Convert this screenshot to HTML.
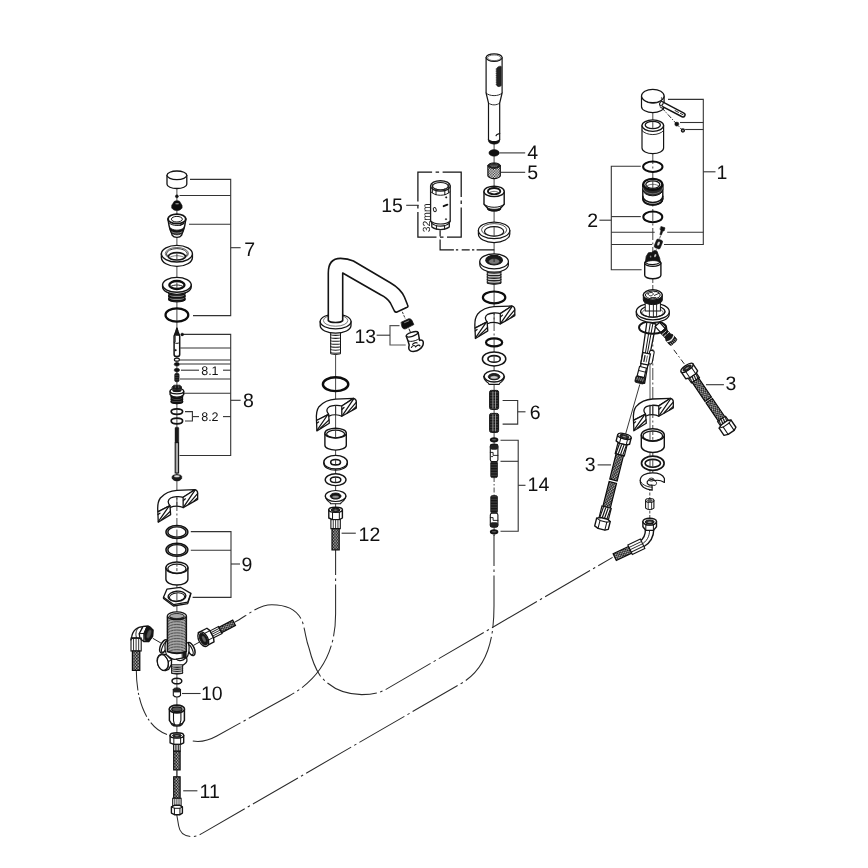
<!DOCTYPE html>
<html><head><meta charset="utf-8"><title>Exploded diagram</title>
<style>html,body{margin:0;padding:0;background:#fff}svg{display:block}svg text{font-family:"Liberation Sans",sans-serif;text-rendering:geometricPrecision}svg{will-change:transform}</style></head>
<body>
<svg width="868" height="868" viewBox="0 0 868 868">
<defs>
<pattern id="mesh" width="2.7" height="3.1" patternUnits="userSpaceOnUse">
<rect width="2.7" height="3.1" fill="#1e1e1e"/>
<circle cx="0.675" cy="0.775" r="0.66" fill="#fff"/>
<circle cx="2.025" cy="2.325" r="0.66" fill="#fff"/>
</pattern>
<pattern id="mesh2" width="2.6" height="2.6" patternUnits="userSpaceOnUse">
<rect width="2.6" height="2.6" fill="#1e1e1e"/>
<circle cx="0.65" cy="0.65" r="0.78" fill="#fff"/>
<circle cx="1.95" cy="1.95" r="0.78" fill="#fff"/>
</pattern>
<pattern id="thr" width="4" height="1.55" patternUnits="userSpaceOnUse">
<rect width="4" height="1.55" fill="#fff"/>
<rect y="0" width="4" height="0.8" fill="#2a2a2a"/>
</pattern>
<pattern id="thr2" width="4" height="1.9" patternUnits="userSpaceOnUse">
<rect width="4" height="1.9" fill="#fff"/>
<rect y="0" width="4" height="0.9" fill="#333"/>
</pattern>
<pattern id="spr" width="4" height="1.6" patternUnits="userSpaceOnUse">
<rect width="4" height="1.6" fill="#111"/>
<rect y="0" width="4" height="0.4" fill="#6a6a6a"/>
</pattern>
</defs>
<rect width="868" height="868" fill="#fff"/>
<path d="M335.6,549.4 L335.6,614 C335.6,652 320,679 289,696 L216.8,736 C205,742.5 197,742 190.5,740.5" fill="none" stroke="#2a2a2a" stroke-width="1.05" stroke-dasharray="52 3.5 2.5 3.5" stroke-dashoffset="26.4"/>
<path d="M234.4,622.4 C246,616.4 258,604.7 271.8,604.7 C288,604.7 300,612 303,623.7 C306,635 306,640 309,648 C312,660 315,668 320,675.5 C330,688 345,694.6 361.7,694.6 C372,694.6 379,693 386,689.4 L612.6,557.4" fill="none" stroke="#2a2a2a" stroke-width="1.05" stroke-dasharray="52 3.5 2.5 3.5" stroke-dashoffset="38"/>
<path d="M494,535 L494,606 C494,640 487,668 462,683 L203,832.9 C198,835.8 195.5,836.6 192.7,836.6 C184,836.6 179.6,832 178.7,826 L176.8,815" fill="none" stroke="#2a2a2a" stroke-width="1.05" stroke-dasharray="52 3.5 2.5 3.5" stroke-dashoffset="21"/>
<path d="M136.3,669.8 C136.4,706.5 149.5,728.5 167,734.4" fill="none" stroke="#2a2a2a" stroke-width="1.05" stroke-dasharray="20.6 2.6 2 2.6" stroke-dashoffset="0"/>
<line x1="176.90" y1="189.00" x2="176.90" y2="486.00" stroke="#333" stroke-width="0.9" />
<line x1="176.90" y1="486.00" x2="176.90" y2="530.00" stroke="#333" stroke-width="0.9" stroke-dasharray="9 2.5 2 2.5"/>
<line x1="176.90" y1="530.00" x2="176.90" y2="745.00" stroke="#333" stroke-width="0.9" />
<line x1="176.90" y1="770.00" x2="176.90" y2="778.00" stroke="#333" stroke-width="0.9" />
<polyline points="190.00,179.40 230.70,179.40 230.70,315.60 193.00,315.60" fill="none" stroke="#333" stroke-width="1.1" stroke-linejoin="miter" />
<line x1="179.50" y1="195.50" x2="230.70" y2="195.50" stroke="#333" stroke-width="1.1" />
<line x1="189.00" y1="224.20" x2="230.70" y2="224.20" stroke="#333" stroke-width="1.1" />
<line x1="230.70" y1="247.70" x2="240.60" y2="247.70" stroke="#333" stroke-width="1.1" />
<text x="244.20" y="255.90" font-size="19.5" text-anchor="start" fill="#111" >7</text>
<polyline points="182.70,334.40 230.70,334.40 230.70,455.50 179.50,455.50" fill="none" stroke="#333" stroke-width="1.1" stroke-linejoin="miter" />
<line x1="180.30" y1="348.00" x2="230.70" y2="348.00" stroke="#333" stroke-width="1.1" />
<line x1="180.00" y1="360.00" x2="230.70" y2="360.00" stroke="#333" stroke-width="1.1" />
<line x1="180.00" y1="364.00" x2="230.70" y2="364.00" stroke="#333" stroke-width="1.1" />
<line x1="181.00" y1="370.20" x2="199.00" y2="370.20" stroke="#333" stroke-width="1.1" />
<line x1="223.00" y1="370.20" x2="230.70" y2="370.20" stroke="#333" stroke-width="1.1" />
<line x1="180.00" y1="379.00" x2="230.70" y2="379.00" stroke="#333" stroke-width="1.1" />
<line x1="183.50" y1="393.20" x2="230.70" y2="393.20" stroke="#333" stroke-width="1.1" />
<line x1="223.00" y1="416.60" x2="230.70" y2="416.60" stroke="#333" stroke-width="1.1" />
<line x1="230.70" y1="400.30" x2="240.60" y2="400.30" stroke="#333" stroke-width="1.1" />
<text x="243.00" y="407.20" font-size="19.5" text-anchor="start" fill="#111" >8</text>
<text x="201.20" y="374.60" font-size="12.5" text-anchor="start" fill="#111" >8.1</text>
<text x="201.20" y="421.20" font-size="12.5" text-anchor="start" fill="#111" >8.2</text>
<polyline points="185.00,411.60 192.40,411.60 192.40,421.00 185.00,421.00" fill="none" stroke="#333" stroke-width="1.1" stroke-linejoin="miter" />
<line x1="192.40" y1="416.60" x2="199.00" y2="416.60" stroke="#333" stroke-width="1.1" />
<polyline points="190.80,531.60 231.00,531.60 231.00,597.40 192.60,597.40" fill="none" stroke="#333" stroke-width="1.1" stroke-linejoin="miter" />
<line x1="190.80" y1="550.30" x2="231.00" y2="550.30" stroke="#333" stroke-width="1.1" />
<line x1="231.00" y1="564.00" x2="240.00" y2="564.00" stroke="#333" stroke-width="1.1" />
<text x="241.40" y="571.30" font-size="19.5" text-anchor="start" fill="#111" >9</text>
<line x1="182.00" y1="693.50" x2="200.60" y2="693.50" stroke="#333" stroke-width="1.1" />
<text x="201.00" y="700.00" font-size="19.5" text-anchor="start" fill="#111" >10</text>
<line x1="183.20" y1="790.80" x2="197.40" y2="790.80" stroke="#333" stroke-width="1.1" />
<text x="199.60" y="797.90" font-size="19.5" text-anchor="start" fill="#111" >11</text>
<path d="M167.00,175.30 L167.00,184.20 A9.90,4.30 0 0 0 186.80,184.20 L186.80,175.30 Z" fill="#fff" stroke="#141414" stroke-width="1.3" stroke-linejoin="round" stroke-linecap="round" />
<ellipse cx="176.90" cy="175.30" rx="9.90" ry="4.30" fill="#fff" stroke="#141414" stroke-width="1.3" />
<ellipse cx="176.90" cy="196.30" rx="1.50" ry="1.50" fill="#111" stroke="#141414" stroke-width="0.5" />
<path d="M173.5,202.4 C173.5,200.2 180.3,200.2 180.3,202.4 L182.1,205.6 L182.1,208 C179.9,211.4 173.9,211.4 171.70000000000002,208 L171.70000000000002,205.6 Z" fill="#0e0e0e" stroke="#141414" stroke-width="0.6" stroke-linejoin="round" stroke-linecap="round" />
<ellipse cx="177.10" cy="203.70" rx="2.00" ry="0.80" fill="#aaa" stroke="#141414" stroke-width="0.3" />
<path d="M167.9,219 L168.9,225 C169.70000000000002,229 170.5,230.7 171.3,232.6 L172.3,235.4 C173.9,238 179.9,238 181.5,235.4 L182.5,232.6 C183.3,230.7 184.1,229 184.9,225 L185.9,219 Z" fill="#fff" stroke="#141414" stroke-width="1.4" stroke-linejoin="round" stroke-linecap="round" />
<path d="M169.70000000000002,227.6 C172.9,231 180.9,231 184.1,227.6 L182.6,232.6 C179.9,235.6 173.9,235.6 171.20000000000002,232.6 Z" fill="#141414" stroke="#141414" stroke-width="0.8" stroke-linejoin="round" stroke-linecap="round" />
<path d="M171.9,232 C173.9,233.6 179.9,233.6 181.9,232" fill="none" stroke="#aaa" stroke-width="0.8" stroke-linejoin="round" stroke-linecap="round" />
<ellipse cx="176.90" cy="218.90" rx="8.90" ry="4.80" fill="#fff" stroke="#141414" stroke-width="1.8" />
<ellipse cx="176.90" cy="219.20" rx="5.50" ry="2.80" fill="none" stroke="#141414" stroke-width="1.0" />
<path d="M168.5,222.4 C171.9,226.6 181.9,226.6 185.3,222.4" fill="none" stroke="#141414" stroke-width="1.0" stroke-linejoin="round" stroke-linecap="round" />
<path d="M179.9,225.4 L183.5,223.4" fill="none" stroke="#141414" stroke-width="1.2" stroke-linejoin="round" stroke-linecap="round" />
<path d="M161.4,253.7 L161.4,257.4 A15.5,9.0 0 0 0 192.4,257.4 L192.4,253.7 Z" fill="#fff" stroke="#141414" stroke-width="1.4" stroke-linejoin="round" stroke-linecap="round" />
<ellipse cx="176.90" cy="253.70" rx="15.50" ry="8.30" fill="#fff" stroke="#141414" stroke-width="1.4" />
<ellipse cx="176.90" cy="253.50" rx="11.60" ry="6.00" fill="none" stroke="#555" stroke-width="0.9" />
<ellipse cx="176.90" cy="253.90" rx="10.40" ry="5.30" fill="none" stroke="#333" stroke-width="1.0" />
<ellipse cx="176.90" cy="256.30" rx="8.50" ry="3.70" fill="#fff" stroke="#141414" stroke-width="1.7" />
<path d="M169.5,257.6 C172.9,255 180.9,255 184.3,257.6" fill="none" stroke="#555" stroke-width="0.8" stroke-linejoin="round" stroke-linecap="round" />
<line x1="176.90" y1="253.40" x2="176.90" y2="259.40" stroke="#333" stroke-width="0.9" />
<path d="M168.90,291.40 L168.90,300.40 Q176.90,303.60 184.90,300.40 L184.90,291.40 Z" fill="#888" stroke="#141414" stroke-width="1.0" stroke-linejoin="round" stroke-linecap="round" />
<path d="M168.90,292.90 A8.00,2.00 0 0 0 184.90,292.90" fill="none" stroke="#111" stroke-width="1.9" stroke-linejoin="round" stroke-linecap="round" />
<path d="M168.90,295.90 A8.00,2.00 0 0 0 184.90,295.90" fill="none" stroke="#111" stroke-width="1.9" stroke-linejoin="round" stroke-linecap="round" />
<path d="M168.90,298.90 A8.00,2.00 0 0 0 184.90,298.90" fill="none" stroke="#111" stroke-width="1.9" stroke-linejoin="round" stroke-linecap="round" />
<path d="M162.6,284.8 L162.6,286.8 A14.3,7.6 0 0 0 191.20000000000002,286.8 L191.20000000000002,284.8 Z" fill="#fff" stroke="#141414" stroke-width="1.4" stroke-linejoin="round" stroke-linecap="round" />
<ellipse cx="176.90" cy="284.80" rx="14.30" ry="7.40" fill="#fff" stroke="#141414" stroke-width="1.4" />
<ellipse cx="176.90" cy="285.00" rx="7.60" ry="4.00" fill="#fff" stroke="#0e0e0e" stroke-width="2.3" />
<path d="M170.5,286.6 C173.9,284.4 179.9,284.4 183.3,286.6" fill="none" stroke="#222" stroke-width="1.0" stroke-linejoin="round" stroke-linecap="round" />
<line x1="176.90" y1="282.40" x2="176.90" y2="288.40" stroke="#333" stroke-width="0.9" />
<ellipse cx="176.90" cy="315.00" rx="11.40" ry="6.70" fill="none" stroke="#0c0c0c" stroke-width="2.2" />
<path d="M176.9,328.2 L175.70000000000002,332 L174.1,336 L174.1,354.4 C174.1,357.2 179.70000000000002,357.2 179.70000000000002,354.4 L179.70000000000002,336 L178.1,332 Z" fill="#fff" stroke="#141414" stroke-width="1.5" stroke-linejoin="round" stroke-linecap="round" />
<path d="M176.9,328.2 L175.70000000000002,332 L174.5,335.4 L179.3,335.4 L178.1,332 Z" fill="#1a1a1a" stroke="#141414" stroke-width="0.6" stroke-linejoin="round" stroke-linecap="round" />
<path d="M174.1,342.4 C175.9,343.8 177.9,343.8 179.70000000000002,342.4" fill="none" stroke="#141414" stroke-width="1.0" stroke-linejoin="round" stroke-linecap="round" />
<line x1="175.30" y1="336.00" x2="175.30" y2="342.00" stroke="#333" stroke-width="0.9" />
<ellipse cx="175.60" cy="350.20" rx="0.90" ry="0.90" fill="#111" stroke="#141414" stroke-width="0.3" />
<ellipse cx="182.20" cy="334.40" rx="1.50" ry="1.50" fill="#111" stroke="#141414" stroke-width="0.3" />
<ellipse cx="176.90" cy="359.70" rx="2.50" ry="1.50" fill="#fff" stroke="#141414" stroke-width="1.2" />
<ellipse cx="176.90" cy="364.30" rx="2.80" ry="1.80" fill="#111" stroke="#141414" stroke-width="0.5" />
<ellipse cx="176.90" cy="370.10" rx="2.80" ry="1.80" fill="#111" stroke="#141414" stroke-width="0.5" />
<rect x="174.70" y="373.20" width="4.40" height="8.60" fill="#141414" stroke="#141414" stroke-width="0.6" rx="1.6"/>
<path d="M175.5,375.4 L178.3,375.4 M175.5,377.6 L178.3,377.6 M175.5,379.8 L178.3,379.8" fill="none" stroke="#777" stroke-width="0.4" stroke-linejoin="round" stroke-linecap="round" />
<path d="M172.3,386.8 L173.9,385.2 L179.9,385.2 L181.5,386.8 L181.5,391 L172.3,391 Z" fill="#1a1a1a" stroke="#141414" stroke-width="0.8" stroke-linejoin="round" stroke-linecap="round" />
<path d="M175.3,386 L175.3,390 M178.70000000000002,386 L178.70000000000002,390" fill="none" stroke="#999" stroke-width="0.5" stroke-linejoin="round" stroke-linecap="round" />
<path d="M171.30,395.40 L171.30,402.80 Q176.90,405.00 182.50,402.80 L182.50,395.40 Z" fill="#777" stroke="#141414" stroke-width="1.0" stroke-linejoin="round" stroke-linecap="round" />
<path d="M171.30,396.63 A5.60,1.38 0 0 0 182.50,396.63" fill="none" stroke="#111" stroke-width="1.9" stroke-linejoin="round" stroke-linecap="round" />
<path d="M171.30,399.10 A5.60,1.38 0 0 0 182.50,399.10" fill="none" stroke="#111" stroke-width="1.9" stroke-linejoin="round" stroke-linecap="round" />
<path d="M171.30,401.57 A5.60,1.38 0 0 0 182.50,401.57" fill="none" stroke="#111" stroke-width="1.9" stroke-linejoin="round" stroke-linecap="round" />
<path d="M170.1,391.2 L170.1,394.6 C172.9,398 180.9,398 183.70000000000002,394.6 L183.70000000000002,391.2 Z" fill="#fff" stroke="#141414" stroke-width="1.4" stroke-linejoin="round" stroke-linecap="round" />
<ellipse cx="176.90" cy="391.20" rx="6.80" ry="2.60" fill="#fff" stroke="#141414" stroke-width="1.3" />
<ellipse cx="176.90" cy="390.40" rx="4.40" ry="1.50" fill="#1a1a1a" stroke="#141414" stroke-width="0.5" />
<ellipse cx="176.90" cy="411.60" rx="5.70" ry="2.80" fill="none" stroke="#141414" stroke-width="1.7" />
<ellipse cx="176.90" cy="421.00" rx="5.70" ry="2.80" fill="none" stroke="#141414" stroke-width="1.7" />
<rect x="175.00" y="427.20" width="3.80" height="15.40" fill="#1a1a1a" stroke="#141414" stroke-width="0.4" rx="1"/>
<rect x="175.20" y="442.60" width="3.40" height="30.40" fill="#aaa" stroke="#141414" stroke-width="1.1" />
<path d="M172.1,476.6 C172.1,473.8 181.70000000000002,473.8 181.70000000000002,476.6 L181.70000000000002,478.4 C179.9,481.8 173.9,481.8 172.1,478.4 Z" fill="#1a1a1a" stroke="#141414" stroke-width="0.6" stroke-linejoin="round" stroke-linecap="round" />
<ellipse cx="176.90" cy="476.30" rx="3.00" ry="1.30" fill="#ddd" stroke="#141414" stroke-width="0.4" />
<g transform="translate(176.95,505.00)">
<path d="M17.9,-15.3 L0,-14.6 C-6,-14.3 -12.5,-11.5 -16.6,-7 C-18.8,-4 -19.6,1 -19.1,6.8 L-7,0.6 C-9.6,-2.4 -9.2,-5.2 -6.3,-7 C-3.5,-8.4 2.5,-8.8 6.2,-7.7 Z" fill="#fff" stroke="#141414" stroke-width="1.3" stroke-linejoin="round" stroke-linecap="round" />
<path d="M-19.1,6.8 L-7,0.6 L-6.3,9.6 L-18.7,17.2 Z" fill="#fff" stroke="#141414" stroke-width="1.3" stroke-linejoin="round" stroke-linecap="round" />
<path d="M-18.6,16.6 L-8.4,1.8 M-15.2,14.6 L-6.6,6.2 M-18.9,9.6 L-17,8.2" fill="none" stroke="#141414" stroke-width="1.25" stroke-linejoin="round" stroke-linecap="round" />
<path d="M6.2,-7.7 L17.9,-15.3 C19.6,-14.8 20.7,-13.4 20.7,-11.9 L20.7,-5.6 L6.2,2.6 Z" fill="#fff" stroke="#141414" stroke-width="1.3" stroke-linejoin="round" stroke-linecap="round" />
<path d="M6.9,1.6 L17.9,-14.6 M11.4,-0.6 L20.6,-11.4 M6.5,-4.4 L8.4,-6.2 M17,-3.8 L20.5,-7" fill="none" stroke="#141414" stroke-width="1.25" stroke-linejoin="round" stroke-linecap="round" />
<path d="M-6.6,2.4 C-3,0.6 3,0.6 6.2,2.6" fill="none" stroke="#141414" stroke-width="1.2" stroke-linejoin="round" stroke-linecap="round" />
</g>
<line x1="176.90" y1="496.80" x2="176.90" y2="505.60" stroke="#333" stroke-width="0.9" />
<ellipse cx="176.90" cy="532.00" rx="10.00" ry="5.90" fill="none" stroke="#999" stroke-width="2.0" />
<ellipse cx="176.90" cy="532.00" rx="11.00" ry="6.60" fill="none" stroke="#141414" stroke-width="1.4" />
<ellipse cx="176.90" cy="532.00" rx="9.00" ry="5.20" fill="none" stroke="#141414" stroke-width="1.3" />
<ellipse cx="176.90" cy="549.80" rx="10.00" ry="5.90" fill="none" stroke="#999" stroke-width="2.0" />
<ellipse cx="176.90" cy="549.80" rx="11.00" ry="6.60" fill="none" stroke="#141414" stroke-width="1.4" />
<ellipse cx="176.90" cy="549.80" rx="9.00" ry="5.20" fill="none" stroke="#141414" stroke-width="1.3" />
<path d="M165.90,567.80 L165.90,579.20 A11.00,5.80 0 0 0 187.90,579.20 L187.90,567.80 Z" fill="#fff" stroke="#141414" stroke-width="1.4" stroke-linejoin="round" stroke-linecap="round" />
<ellipse cx="176.90" cy="567.80" rx="11.00" ry="5.80" fill="#fff" stroke="#141414" stroke-width="1.4" />
<ellipse cx="176.90" cy="568.70" rx="9.10" ry="4.50" fill="none" stroke="#141414" stroke-width="1.26" />
<line x1="176.90" y1="563.60" x2="176.90" y2="572.40" stroke="#333" stroke-width="0.9" stroke-dasharray="3 1.5"/>
<path d="M163.5,597.2 L166.9,589.2 L180.4,587.3 L190.8,593.4 L190.6,594.8 L187.7,603.6 L173.5,606 L163.5,598.6 Z" fill="#fff" stroke="#141414" stroke-width="1.3" stroke-linejoin="round" stroke-linecap="round" />
<path d="M163.5,597.2 L173.5,604.6 L187.7,602.2 L190.8,593.4" fill="none" stroke="#141414" stroke-width="1.2" stroke-linejoin="round" stroke-linecap="round" />
<ellipse cx="177.00" cy="596.30" rx="8.90" ry="5.10" fill="#fff" stroke="#141414" stroke-width="1.4" transform="rotate(-5 177 596.3)"/>
<ellipse cx="177.00" cy="597.00" rx="7.60" ry="4.10" fill="none" stroke="#141414" stroke-width="1.0" transform="rotate(-5 177 597)"/>
<line x1="176.90" y1="592.60" x2="176.90" y2="600.60" stroke="#333" stroke-width="0.9" />
<ellipse cx="163.80" cy="646.40" rx="3.40" ry="7.00" fill="#fff" stroke="#141414" stroke-width="1.5" transform="rotate(24 163.8 646.4)"/>
<ellipse cx="164.70" cy="646.90" rx="2.00" ry="5.30" fill="#fff" stroke="#141414" stroke-width="1.1" transform="rotate(24 163.8 646.4)"/>
<ellipse cx="190.90" cy="649.00" rx="3.40" ry="7.00" fill="#fff" stroke="#141414" stroke-width="1.5" transform="rotate(-24 190.9 649.0)"/>
<ellipse cx="190.00" cy="649.50" rx="2.00" ry="5.30" fill="#fff" stroke="#141414" stroke-width="1.1" transform="rotate(-24 190.9 649.0)"/>
<path d="M165.6,641.5 C164,648 165.4,654 168,656.6 L176,661 L186,658.6 C189,655 190,648 188.4,643 Z" fill="#fff" stroke="#141414" stroke-width="1.2" stroke-linejoin="round" stroke-linecap="round" />
<path d="M167.45,615.80 L167.45,651.60 Q176.90,654.40 186.35,651.60 L186.35,615.80 Z" fill="#dcdcdc" stroke="#141414" stroke-width="1.0" stroke-linejoin="round" stroke-linecap="round" />
<path d="M167.45,616.58 A9.45,1.75 0 0 0 186.35,616.58" fill="none" stroke="#333" stroke-width="0.8" stroke-linejoin="round" stroke-linecap="round" />
<path d="M167.45,618.13 A9.45,1.75 0 0 0 186.35,618.13" fill="none" stroke="#333" stroke-width="0.8" stroke-linejoin="round" stroke-linecap="round" />
<path d="M167.45,619.69 A9.45,1.75 0 0 0 186.35,619.69" fill="none" stroke="#333" stroke-width="0.8" stroke-linejoin="round" stroke-linecap="round" />
<path d="M167.45,621.25 A9.45,1.75 0 0 0 186.35,621.25" fill="none" stroke="#333" stroke-width="0.8" stroke-linejoin="round" stroke-linecap="round" />
<path d="M167.45,622.80 A9.45,1.75 0 0 0 186.35,622.80" fill="none" stroke="#333" stroke-width="0.8" stroke-linejoin="round" stroke-linecap="round" />
<path d="M167.45,624.36 A9.45,1.75 0 0 0 186.35,624.36" fill="none" stroke="#333" stroke-width="0.8" stroke-linejoin="round" stroke-linecap="round" />
<path d="M167.45,625.92 A9.45,1.75 0 0 0 186.35,625.92" fill="none" stroke="#333" stroke-width="0.8" stroke-linejoin="round" stroke-linecap="round" />
<path d="M167.45,627.47 A9.45,1.75 0 0 0 186.35,627.47" fill="none" stroke="#333" stroke-width="0.8" stroke-linejoin="round" stroke-linecap="round" />
<path d="M167.45,629.03 A9.45,1.75 0 0 0 186.35,629.03" fill="none" stroke="#333" stroke-width="0.8" stroke-linejoin="round" stroke-linecap="round" />
<path d="M167.45,630.59 A9.45,1.75 0 0 0 186.35,630.59" fill="none" stroke="#333" stroke-width="0.8" stroke-linejoin="round" stroke-linecap="round" />
<path d="M167.45,632.14 A9.45,1.75 0 0 0 186.35,632.14" fill="none" stroke="#333" stroke-width="0.8" stroke-linejoin="round" stroke-linecap="round" />
<path d="M167.45,633.70 A9.45,1.75 0 0 0 186.35,633.70" fill="none" stroke="#333" stroke-width="0.8" stroke-linejoin="round" stroke-linecap="round" />
<path d="M167.45,635.26 A9.45,1.75 0 0 0 186.35,635.26" fill="none" stroke="#333" stroke-width="0.8" stroke-linejoin="round" stroke-linecap="round" />
<path d="M167.45,636.81 A9.45,1.75 0 0 0 186.35,636.81" fill="none" stroke="#333" stroke-width="0.8" stroke-linejoin="round" stroke-linecap="round" />
<path d="M167.45,638.37 A9.45,1.75 0 0 0 186.35,638.37" fill="none" stroke="#333" stroke-width="0.8" stroke-linejoin="round" stroke-linecap="round" />
<path d="M167.45,639.93 A9.45,1.75 0 0 0 186.35,639.93" fill="none" stroke="#333" stroke-width="0.8" stroke-linejoin="round" stroke-linecap="round" />
<path d="M167.45,641.48 A9.45,1.75 0 0 0 186.35,641.48" fill="none" stroke="#333" stroke-width="0.8" stroke-linejoin="round" stroke-linecap="round" />
<path d="M167.45,643.04 A9.45,1.75 0 0 0 186.35,643.04" fill="none" stroke="#333" stroke-width="0.8" stroke-linejoin="round" stroke-linecap="round" />
<path d="M167.45,644.60 A9.45,1.75 0 0 0 186.35,644.60" fill="none" stroke="#333" stroke-width="0.8" stroke-linejoin="round" stroke-linecap="round" />
<path d="M167.45,646.15 A9.45,1.75 0 0 0 186.35,646.15" fill="none" stroke="#333" stroke-width="0.8" stroke-linejoin="round" stroke-linecap="round" />
<path d="M167.45,647.71 A9.45,1.75 0 0 0 186.35,647.71" fill="none" stroke="#333" stroke-width="0.8" stroke-linejoin="round" stroke-linecap="round" />
<path d="M167.45,649.27 A9.45,1.75 0 0 0 186.35,649.27" fill="none" stroke="#333" stroke-width="0.8" stroke-linejoin="round" stroke-linecap="round" />
<path d="M167.45,650.82 A9.45,1.75 0 0 0 186.35,650.82" fill="none" stroke="#333" stroke-width="0.8" stroke-linejoin="round" stroke-linecap="round" />
<line x1="167.45" y1="615.80" x2="167.45" y2="651.60" stroke="#141414" stroke-width="1.5" />
<line x1="186.35" y1="615.80" x2="186.35" y2="651.60" stroke="#141414" stroke-width="1.5" />
<path d="M167.45,651.6 Q176.9,655.2 186.35,651.6" fill="none" stroke="#141414" stroke-width="1.5" stroke-linejoin="round" stroke-linecap="round" />
<ellipse cx="176.90" cy="615.80" rx="9.45" ry="3.90" fill="#fff" stroke="#141414" stroke-width="1.3" />
<ellipse cx="176.90" cy="616.20" rx="7.40" ry="2.70" fill="#aaa" stroke="#141414" stroke-width="0.9" />
<path d="M169.9,617 Q176.9,620.4 183.9,617 M170.9,618.4 Q176.9,621 182.9,618.4" fill="none" stroke="#141414" stroke-width="0.7" stroke-linejoin="round" stroke-linecap="round" />
<path d="M182.4,652.6 L186.2,651.6 L186.2,657.6 L182.6,658.6 Z" fill="#1a1a1a" stroke="#141414" stroke-width="0.8" stroke-linejoin="round" stroke-linecap="round" />
<path d="M167.6,655.6 C170,658.6 173.4,659.6 176.2,659.2 L186.4,657.4 C187.6,660 186.6,662.6 184.6,664 C182.6,665.8 180,666.4 178.4,666 L171.4,665.6 L170,662 Z" fill="#fff" stroke="#141414" stroke-width="1.3" stroke-linejoin="round" stroke-linecap="round" />
<path d="M176.2,659.2 C178.6,661.6 182.6,661 185.6,658" fill="none" stroke="#141414" stroke-width="1.2" stroke-linejoin="round" stroke-linecap="round" />
<path d="M171.60,665.20 L171.60,673.40 Q177.10,675.00 182.60,673.40 L182.60,665.20 Z" fill="#fff" stroke="#141414" stroke-width="1.0" stroke-linejoin="round" stroke-linecap="round" />
<path d="M171.60,666.23 A5.50,1.00 0 0 0 182.60,666.23" fill="none" stroke="#222" stroke-width="1.3" stroke-linejoin="round" stroke-linecap="round" />
<path d="M171.60,668.27 A5.50,1.00 0 0 0 182.60,668.27" fill="none" stroke="#222" stroke-width="1.3" stroke-linejoin="round" stroke-linecap="round" />
<path d="M171.60,670.33 A5.50,1.00 0 0 0 182.60,670.33" fill="none" stroke="#222" stroke-width="1.3" stroke-linejoin="round" stroke-linecap="round" />
<path d="M171.60,672.38 A5.50,1.00 0 0 0 182.60,672.38" fill="none" stroke="#222" stroke-width="1.3" stroke-linejoin="round" stroke-linecap="round" />
<path d="M157.2,660.6 C157.2,656.4 159.6,653.8 162.6,654.2 L166.2,654.6 L171.6,659.8 L171.4,664.6 L168.6,669.4 L165.4,670.6 C161,670.8 157.2,666.2 157.2,660.6 Z" fill="#fff" stroke="#141414" stroke-width="1.3" stroke-linejoin="round" stroke-linecap="round" />
<ellipse cx="162.80" cy="662.50" rx="5.30" ry="7.90" fill="#fff" stroke="#141414" stroke-width="1.2" transform="rotate(-14 162.8 662.5)"/>
<path d="M164.4,655 L168.6,661.4 L168.2,667.4 L165.4,670.4 M168.6,661.4 L171.6,659.8" fill="none" stroke="#141414" stroke-width="1.0" stroke-linejoin="round" stroke-linecap="round" />
<line x1="160.90" y1="643.00" x2="152.80" y2="638.30" stroke="#222" stroke-width="1.0" />
<line x1="193.40" y1="645.40" x2="199.60" y2="642.00" stroke="#222" stroke-width="1.0" />
<path d="M143.1,626.6 C137.4,626.6 132.2,630.6 131.6,637.8 L141,638.4 C140.4,636.6 140,635.4 139.6,634 Z" fill="#fff" stroke="#141414" stroke-width="1.3" stroke-linejoin="round" stroke-linecap="round" />
<path d="M137.8,628.6 C135.6,631 135.4,635 136.6,638" fill="none" stroke="#141414" stroke-width="0.9" stroke-linejoin="round" stroke-linecap="round" />
<path d="M139.2,633.7 L143.1,626.4 L148.2,626 L153,629.9 L152.6,636.4 L148.8,641.6 L143.7,641.6 L139.9,638.2 Z" fill="#fff" stroke="#141414" stroke-width="1.3" stroke-linejoin="round" stroke-linecap="round" />
<path d="M144,633.4 L146.8,626.6 L150,626.4 L153,629.9 L152.6,636.4 L148.8,641.6 L145.4,641.4 Z" fill="#151515" stroke="#141414" stroke-width="0.8" stroke-linejoin="round" stroke-linecap="round" />
<path d="M139.2,633.7 L144,633.4 L143.7,641.6 M144,633.4 L146.8,626.6" fill="none" stroke="#141414" stroke-width="1.0" stroke-linejoin="round" stroke-linecap="round" />
<ellipse cx="149.00" cy="634.00" rx="2.00" ry="4.60" fill="#555" stroke="#141414" stroke-width="0.4" transform="rotate(20 149 634)"/>
<g transform="translate(136.10,638.00) rotate(0.00)">
<rect x="-5.10" y="0.00" width="10.20" height="13.00" fill="#fff" stroke="#141414" stroke-width="1.1" />
<line x1="-2.55" y1="0.30" x2="-2.55" y2="12.70" stroke="#222" stroke-width="0.9" />
<line x1="0.00" y1="0.30" x2="0.00" y2="12.70" stroke="#222" stroke-width="0.9" />
<line x1="2.55" y1="0.30" x2="2.55" y2="12.70" stroke="#222" stroke-width="0.9" />
<rect x="-3.70" y="13.00" width="7.40" height="19.40" fill="url(#mesh)" stroke="#0c0c0c" stroke-width="1.2" />
</g>
<path d="M130.9,640 C130.9,637.6 141.3,637.6 141.3,640" fill="none" stroke="#141414" stroke-width="1.2" stroke-linejoin="round" stroke-linecap="round" />
<g transform="translate(200.80,640.10) rotate(-117.40)">
<path d="M-7.7,1.2 L-7.7,10.9 L-3.4650000000000003,12.5 L4.235,12.5 L7.7,10.9 L7.7,1.2 L4.235,-0.4 L-3.4650000000000003,-0.4 Z" fill="#fff" stroke="#141414" stroke-width="1.4" stroke-linejoin="round" stroke-linecap="round" />
<path d="M-3.4650000000000003,2.4 L-3.4650000000000003,12.5 M4.235,2.4 L4.235,12.5" fill="none" stroke="#141414" stroke-width="1.0" stroke-linejoin="round" stroke-linecap="round" />
<path d="M-7.7,1.2 L-3.4650000000000003,2.6 L4.235,2.6 L7.7,1.2" fill="none" stroke="#141414" stroke-width="1.0" stroke-linejoin="round" stroke-linecap="round" />
<rect x="-3.90" y="12.50" width="7.80" height="9.50" fill="#fff" stroke="#141414" stroke-width="1.1" />
<line x1="-1.95" y1="12.80" x2="-1.95" y2="21.70" stroke="#222" stroke-width="0.9" />
<line x1="0.00" y1="12.80" x2="0.00" y2="21.70" stroke="#222" stroke-width="0.9" />
<line x1="1.95" y1="12.80" x2="1.95" y2="21.70" stroke="#222" stroke-width="0.9" />
<rect x="-3.00" y="22.00" width="6.00" height="15.50" fill="url(#mesh)" stroke="#0c0c0c" stroke-width="1.2" />
</g>
<ellipse cx="203.30" cy="639.20" rx="4.60" ry="7.80" fill="#fff" stroke="#141414" stroke-width="1.3" transform="rotate(-27 203.3 639.2)"/>
<ellipse cx="203.50" cy="639.10" rx="3.40" ry="6.30" fill="#161616" stroke="#141414" stroke-width="0.9" transform="rotate(-27 203.5 639.1)"/>
<ellipse cx="203.90" cy="639.00" rx="1.50" ry="3.40" fill="#666" stroke="#141414" stroke-width="0.3" transform="rotate(-27 203.9 639.0)"/>
<ellipse cx="176.90" cy="681.00" rx="4.90" ry="2.80" fill="none" stroke="#141414" stroke-width="1.5" />
<path d="M173.3,689.6 L173.3,695.4 C174.9,697.6 178.9,697.6 180.5,695.4 L180.5,689.6 Z" fill="#fff" stroke="#141414" stroke-width="1.1" stroke-linejoin="round" stroke-linecap="round" />
<ellipse cx="176.90" cy="689.60" rx="3.60" ry="1.70" fill="#222" stroke="#141414" stroke-width="1.0" />
<rect x="173.30" y="689.80" width="7.20" height="2.60" fill="#222" stroke="#141414" stroke-width="0" />
<path d="M169.4,709 L169.4,720.4 L171.9,724.4 C173.9,726.6 179.9,726.6 181.9,724.4 L184.4,720.4 L184.4,709 Z" fill="#fff" stroke="#141414" stroke-width="1.5" stroke-linejoin="round" stroke-linecap="round" />
<ellipse cx="176.90" cy="709.00" rx="7.60" ry="3.90" fill="#fff" stroke="#141414" stroke-width="1.6" />
<ellipse cx="176.90" cy="709.20" rx="5.20" ry="2.30" fill="#555" stroke="#141414" stroke-width="1.2" />
<path d="M173.5,712.4 L173.5,720.6 L174.5,724.6 M180.9,712.2 L180.9,720.4 L179.70000000000002,724.4 M172.3,723.6 C173.9,725.4 179.9,725.4 181.5,723.6" fill="none" stroke="#141414" stroke-width="1.1" stroke-linejoin="round" stroke-linecap="round" />
<g transform="translate(176.90,733.40) rotate(0.00)">
<path d="M-6.8,2 L-6.8,9.4 L-3.06,11 L3.74,11 L6.8,9.4 L6.8,2 Z" fill="#fff" stroke="#141414" stroke-width="1.4" stroke-linejoin="round" stroke-linecap="round" />
<path d="M-3.06,4 L-3.06,11 M3.74,4 L3.74,11" fill="none" stroke="#141414" stroke-width="1.0" stroke-linejoin="round" stroke-linecap="round" />
<path d="M-6.8,2.2 L-3.06,4.4 L3.74,4.4 L6.8,2.2" fill="none" stroke="#141414" stroke-width="1.0" stroke-linejoin="round" stroke-linecap="round" />
<ellipse cx="0.00" cy="2.00" rx="6.80" ry="2.60" fill="#fff" stroke="#141414" stroke-width="1.4" />
<ellipse cx="0.00" cy="2.10" rx="4.49" ry="1.60" fill="#2a2a2a" stroke="#141414" stroke-width="1.0" />
<ellipse cx="0.00" cy="2.30" rx="2.04" ry="0.70" fill="#aaa" stroke="#141414" stroke-width="0.3" />
<rect x="-3.30" y="11.00" width="6.60" height="6.80" fill="#fff" stroke="#141414" stroke-width="1.1" />
<line x1="-1.65" y1="11.30" x2="-1.65" y2="17.50" stroke="#222" stroke-width="0.9" />
<line x1="0.00" y1="11.30" x2="0.00" y2="17.50" stroke="#222" stroke-width="0.9" />
<line x1="1.65" y1="11.30" x2="1.65" y2="17.50" stroke="#222" stroke-width="0.9" />
<rect x="-3.20" y="17.80" width="6.40" height="18.70" fill="url(#mesh)" stroke="#0c0c0c" stroke-width="1.2" />
<line x1="0.00" y1="36.50" x2="0.00" y2="43.40" stroke="#333" stroke-width="0.9" />
<rect x="-3.20" y="43.40" width="6.40" height="21.50" fill="url(#mesh)" stroke="#0c0c0c" stroke-width="1.2" />
<rect x="-4.20" y="64.90" width="8.40" height="7.40" fill="#fff" stroke="#141414" stroke-width="1.1" />
<line x1="-2.10" y1="65.20" x2="-2.10" y2="72.00" stroke="#222" stroke-width="0.9" />
<line x1="0.00" y1="65.20" x2="0.00" y2="72.00" stroke="#222" stroke-width="0.9" />
<line x1="2.10" y1="65.20" x2="2.10" y2="72.00" stroke="#222" stroke-width="0.9" />
<path d="M-5.5,73.50000000000001 L-5.5,79.70000000000002 L-2.475,81.30000000000001 L3.0250000000000004,81.30000000000001 L5.5,79.70000000000002 L5.5,73.50000000000001 L3.0250000000000004,71.9 L-2.475,71.9 Z" fill="#fff" stroke="#141414" stroke-width="1.4" stroke-linejoin="round" stroke-linecap="round" />
<path d="M-2.475,74.70000000000002 L-2.475,81.30000000000001 M3.0250000000000004,74.70000000000002 L3.0250000000000004,81.30000000000001" fill="none" stroke="#141414" stroke-width="1.0" stroke-linejoin="round" stroke-linecap="round" />
<path d="M-5.5,73.50000000000001 L-2.475,74.9 L3.0250000000000004,74.9 L5.5,73.50000000000001" fill="none" stroke="#141414" stroke-width="1.0" stroke-linejoin="round" stroke-linecap="round" />
</g>
<line x1="335.60" y1="352.00" x2="335.60" y2="508.00" stroke="#333" stroke-width="0.9" />
<path d="M330.70,333.00 L330.70,353.80 Q335.60,355.20 340.50,353.80 L340.50,333.00 Z" fill="#fff" stroke="#141414" stroke-width="1.0" stroke-linejoin="round" stroke-linecap="round" />
<path d="M330.70,334.49 A4.90,0.88 0 0 0 340.50,334.49" fill="none" stroke="#1a1a1a" stroke-width="1.1" stroke-linejoin="round" stroke-linecap="round" />
<path d="M330.70,337.46 A4.90,0.88 0 0 0 340.50,337.46" fill="none" stroke="#1a1a1a" stroke-width="1.1" stroke-linejoin="round" stroke-linecap="round" />
<path d="M330.70,340.43 A4.90,0.88 0 0 0 340.50,340.43" fill="none" stroke="#1a1a1a" stroke-width="1.1" stroke-linejoin="round" stroke-linecap="round" />
<path d="M330.70,343.40 A4.90,0.88 0 0 0 340.50,343.40" fill="none" stroke="#1a1a1a" stroke-width="1.1" stroke-linejoin="round" stroke-linecap="round" />
<path d="M330.70,346.37 A4.90,0.88 0 0 0 340.50,346.37" fill="none" stroke="#1a1a1a" stroke-width="1.1" stroke-linejoin="round" stroke-linecap="round" />
<path d="M330.70,349.34 A4.90,0.88 0 0 0 340.50,349.34" fill="none" stroke="#1a1a1a" stroke-width="1.1" stroke-linejoin="round" stroke-linecap="round" />
<path d="M330.70,352.31 A4.90,0.88 0 0 0 340.50,352.31" fill="none" stroke="#1a1a1a" stroke-width="1.1" stroke-linejoin="round" stroke-linecap="round" />
<path d="M320.20000000000005,321.5 L320.20000000000005,325.6 A15.4,7.6 0 0 0 351.0,325.6 L351.0,321.5 Z" fill="#fff" stroke="#141414" stroke-width="1.3" stroke-linejoin="round" stroke-linecap="round" />
<ellipse cx="335.60" cy="321.50" rx="15.40" ry="7.40" fill="#fff" stroke="#141414" stroke-width="1.3" />
<ellipse cx="335.60" cy="320.60" rx="12.20" ry="5.60" fill="none" stroke="#555" stroke-width="0.8" />
<path d="M328.3,320.6 L328.3,273 C328.3,263 333,258.4 340.5,258.4 C346,258.4 350,259.4 353.4,261 L390.3,282.7 C397,286.6 402,291.6 404.4,297 L407.6,305 C408.4,306.6 407.8,307.2 406.6,307.6 L397,312 C395.8,312.4 395,312 394.4,311 L390.4,303 C387.6,298.6 384,296.4 380.6,294.8 L342.7,273 L342.7,320.6 C340,323.2 331,323.2 328.3,320.6 Z" fill="#fff" stroke="#141414" stroke-width="1.6" stroke-linejoin="round" stroke-linecap="round" />
<line x1="402.30" y1="311.80" x2="405.40" y2="319.00" stroke="#222" stroke-width="0.9" stroke-dasharray="2.5 1.2"/>
<line x1="408.90" y1="328.70" x2="410.90" y2="333.20" stroke="#222" stroke-width="1.0" />
<path d="M401.4,322.2 L408.6,318.8 C410.4,318.6 411.4,319.4 412,320.6 L413.8,324.6 L405.6,328.8 C403.8,329.2 402.6,328.4 402,327 Z" fill="#0e0e0e" stroke="#141414" stroke-width="0.8" stroke-linejoin="round" stroke-linecap="round" />
<path d="M404.6,322.6 L408.8,320.8" fill="none" stroke="#aaa" stroke-width="0.8" stroke-linejoin="round" stroke-linecap="round" />
<path d="M406.3,336.2 C405.6,333.6 416.8,329.8 418.2,332.6 L419.6,340.4 C421.6,339.6 423.4,340.6 423.3,342.8 C423.4,345.4 421.6,348 419,349.6 C416.6,351.4 412.6,352 410.4,350.8 C408.6,349.8 408.6,347 409.2,345 L408.2,341.6 Z" fill="#fff" stroke="#141414" stroke-width="1.5" stroke-linejoin="round" stroke-linecap="round" />
<path d="M406.3,336.2 C408,338.4 417,335.4 418.2,332.6" fill="none" stroke="#141414" stroke-width="1.3" stroke-linejoin="round" stroke-linecap="round" />
<path d="M408,340.8 C410.6,342.6 417.6,340.4 419.4,338.4" fill="none" stroke="#141414" stroke-width="1.0" stroke-linejoin="round" stroke-linecap="round" />
<path d="M412.6,344.4 C413.6,343 416,342.2 417.2,343 M411.4,347.4 C412.6,345.2 415,344.8 415.6,347 C417,345 419.6,344.4 420,346" fill="none" stroke="#141414" stroke-width="1.1" stroke-linejoin="round" stroke-linecap="round" />
<polyline points="399.50,325.60 390.00,325.60 390.00,345.00 405.70,345.00" fill="none" stroke="#555" stroke-width="1.2" stroke-linejoin="miter" />
<line x1="376.60" y1="335.20" x2="390.00" y2="335.20" stroke="#333" stroke-width="1.1" />
<text x="354.40" y="342.60" font-size="19.5" text-anchor="start" fill="#111" >13</text>
<ellipse cx="335.60" cy="384.20" rx="12.70" ry="6.90" fill="none" stroke="#0c0c0c" stroke-width="2.4" />
<g transform="translate(335.60,413.70)">
<path d="M17.9,-15.3 L0,-14.6 C-6,-14.3 -12.5,-11.5 -16.6,-7 C-18.8,-4 -19.6,1 -19.1,6.8 L-7,0.6 C-9.6,-2.4 -9.2,-5.2 -6.3,-7 C-3.5,-8.4 2.5,-8.8 6.2,-7.7 Z" fill="#fff" stroke="#141414" stroke-width="1.3" stroke-linejoin="round" stroke-linecap="round" />
<path d="M-19.1,6.8 L-7,0.6 L-6.3,9.6 L-18.7,17.2 Z" fill="#fff" stroke="#141414" stroke-width="1.3" stroke-linejoin="round" stroke-linecap="round" />
<path d="M-18.6,16.6 L-8.4,1.8 M-15.2,14.6 L-6.6,6.2 M-18.9,9.6 L-17,8.2" fill="none" stroke="#141414" stroke-width="1.25" stroke-linejoin="round" stroke-linecap="round" />
<path d="M6.2,-7.7 L17.9,-15.3 C19.6,-14.8 20.7,-13.4 20.7,-11.9 L20.7,-5.6 L6.2,2.6 Z" fill="#fff" stroke="#141414" stroke-width="1.3" stroke-linejoin="round" stroke-linecap="round" />
<path d="M6.9,1.6 L17.9,-14.6 M11.4,-0.6 L20.6,-11.4 M6.5,-4.4 L8.4,-6.2 M17,-3.8 L20.5,-7" fill="none" stroke="#141414" stroke-width="1.25" stroke-linejoin="round" stroke-linecap="round" />
<path d="M-6.6,2.4 C-3,0.6 3,0.6 6.2,2.6" fill="none" stroke="#141414" stroke-width="1.2" stroke-linejoin="round" stroke-linecap="round" />
</g>
<line x1="335.60" y1="405.00" x2="335.60" y2="414.60" stroke="#333" stroke-width="0.9" />
<path d="M324.90,433.20 L324.90,445.20 A10.70,4.90 0 0 0 346.30,445.20 L346.30,433.20 Z" fill="#fff" stroke="#141414" stroke-width="1.4" stroke-linejoin="round" stroke-linecap="round" />
<ellipse cx="335.60" cy="433.20" rx="10.70" ry="4.90" fill="#fff" stroke="#141414" stroke-width="1.4" />
<ellipse cx="335.60" cy="434.00" rx="9.00" ry="3.80" fill="none" stroke="#141414" stroke-width="1.26" />
<line x1="335.60" y1="429.50" x2="335.60" y2="437.40" stroke="#333" stroke-width="0.9" />
<ellipse cx="335.60" cy="462.20" rx="11.80" ry="6.80" fill="#fff" stroke="#141414" stroke-width="1.4" />
<path d="M323.8,462.2 L323.8,463.4 A11.8,6.9 0 0 0 347.40000000000003,463.4 L347.40000000000003,462.2" fill="none" stroke="#141414" stroke-width="1.1" stroke-linejoin="round" stroke-linecap="round" />
<ellipse cx="335.60" cy="462.20" rx="4.90" ry="2.70" fill="#fff" stroke="#141414" stroke-width="1.6" />
<line x1="335.60" y1="459.80" x2="335.60" y2="464.60" stroke="#333" stroke-width="0.9" />
<ellipse cx="335.60" cy="479.70" rx="10.40" ry="5.90" fill="#fff" stroke="#141414" stroke-width="1.4" />
<ellipse cx="335.60" cy="479.70" rx="5.20" ry="2.80" fill="#fff" stroke="#141414" stroke-width="1.5" />
<line x1="335.60" y1="477.00" x2="335.60" y2="482.40" stroke="#333" stroke-width="0.9" />
<path d="M325.3,496 C325.3,499 328.6,502 330.0,502.6 L330.6,503.8 L340.6,503.8 L341.20000000000005,502.6 C342.6,502 345.90000000000003,499 345.90000000000003,496 Z" fill="#fff" stroke="#141414" stroke-width="1.1" stroke-linejoin="round" stroke-linecap="round" />
<ellipse cx="335.60" cy="496.00" rx="10.30" ry="5.50" fill="#fff" stroke="#141414" stroke-width="1.2" />
<ellipse cx="335.60" cy="496.10" rx="5.40" ry="3.00" fill="#111" stroke="#141414" stroke-width="1.0" />
<ellipse cx="335.60" cy="496.90" rx="3.40" ry="1.30" fill="#999" stroke="#141414" stroke-width="0.4" />
<g transform="translate(335.60,507.80) rotate(0.00)">
<path d="M-6.8,2 L-6.8,10.200000000000001 L-3.06,11.8 L3.74,11.8 L6.8,10.200000000000001 L6.8,2 Z" fill="#fff" stroke="#141414" stroke-width="1.4" stroke-linejoin="round" stroke-linecap="round" />
<path d="M-3.06,4 L-3.06,11.8 M3.74,4 L3.74,11.8" fill="none" stroke="#141414" stroke-width="1.0" stroke-linejoin="round" stroke-linecap="round" />
<path d="M-6.8,2.2 L-3.06,4.4 L3.74,4.4 L6.8,2.2" fill="none" stroke="#141414" stroke-width="1.0" stroke-linejoin="round" stroke-linecap="round" />
<ellipse cx="0.00" cy="2.00" rx="6.80" ry="2.60" fill="#fff" stroke="#141414" stroke-width="1.4" />
<ellipse cx="0.00" cy="2.10" rx="4.49" ry="1.60" fill="#2a2a2a" stroke="#141414" stroke-width="1.0" />
<ellipse cx="0.00" cy="2.30" rx="2.04" ry="0.70" fill="#aaa" stroke="#141414" stroke-width="0.3" />
<rect x="-4.70" y="11.80" width="9.40" height="9.10" fill="#fff" stroke="#141414" stroke-width="1.1" />
<line x1="-2.35" y1="12.10" x2="-2.35" y2="20.60" stroke="#222" stroke-width="0.9" />
<line x1="0.00" y1="12.10" x2="0.00" y2="20.60" stroke="#222" stroke-width="0.9" />
<line x1="2.35" y1="12.10" x2="2.35" y2="20.60" stroke="#222" stroke-width="0.9" />
<rect x="-3.60" y="20.90" width="7.20" height="21.20" fill="url(#mesh)" stroke="#0c0c0c" stroke-width="1.2" />
</g>
<line x1="341.60" y1="533.20" x2="355.80" y2="533.20" stroke="#333" stroke-width="1.1" />
<text x="358.60" y="541.20" font-size="19.5" text-anchor="start" fill="#111" >12</text>
<line x1="494.10" y1="144.00" x2="494.10" y2="186.00" stroke="#333" stroke-width="0.9" />
<line x1="494.10" y1="210.00" x2="494.10" y2="254.00" stroke="#333" stroke-width="0.9" />
<line x1="494.10" y1="282.00" x2="494.10" y2="306.00" stroke="#333" stroke-width="0.9" />
<line x1="494.10" y1="306.00" x2="494.10" y2="340.00" stroke="#333" stroke-width="0.9" stroke-dasharray="9 2.5 2 2.5"/>
<line x1="494.10" y1="340.00" x2="494.10" y2="444.00" stroke="#333" stroke-width="0.9" />
<line x1="494.10" y1="477.00" x2="494.10" y2="496.00" stroke="#333" stroke-width="0.9" stroke-dasharray="5 2 1.5 2"/>
<line x1="494.10" y1="527.00" x2="494.10" y2="536.00" stroke="#333" stroke-width="0.9" />
<path d="M486.1,57.6 L486.1,93 L488.5,103 L488.5,139.6 C490.1,142.4 498.1,142.4 499.70000000000005,139.6 L499.70000000000005,103 L502.1,93 L502.1,57.6 Z" fill="#fff" stroke="#141414" stroke-width="1.2" stroke-linejoin="round" stroke-linecap="round" />
<ellipse cx="494.10" cy="57.60" rx="8.00" ry="3.80" fill="#fff" stroke="#141414" stroke-width="1.2" />
<ellipse cx="494.10" cy="57.80" rx="6.60" ry="2.80" fill="none" stroke="#555" stroke-width="0.8" />
<path d="M486.1,93 C489.1,96.6 499.1,96.6 502.1,93 M488.5,103 C491.1,105.6 497.1,105.6 499.70000000000005,103" fill="none" stroke="#141414" stroke-width="0.9" stroke-linejoin="round" stroke-linecap="round" />
<path d="M488.5,139.8 C490.1,142.6 498.1,142.6 499.70000000000005,139.8 L499.3,142.2 C497.1,144.8 491.1,144.8 488.90000000000003,142.2 Z" fill="#111" stroke="#141414" stroke-width="0.6" stroke-linejoin="round" stroke-linecap="round" />
<path d="M496.5,69 C497.1,66.4 500.1,65.6 501.3,66.6 L501.3,85.6 C500.1,87.2 497.5,87 496.70000000000005,85.4 Z" fill="#222" stroke="#141414" stroke-width="0.5" stroke-linejoin="round" stroke-linecap="round" />
<line x1="495.70" y1="69.00" x2="497.50" y2="69.00" stroke="#222" stroke-width="0.7" />
<line x1="495.70" y1="71.20" x2="497.50" y2="71.20" stroke="#222" stroke-width="0.7" />
<line x1="495.70" y1="73.40" x2="497.50" y2="73.40" stroke="#222" stroke-width="0.7" />
<line x1="495.70" y1="75.60" x2="497.50" y2="75.60" stroke="#222" stroke-width="0.7" />
<line x1="495.70" y1="77.80" x2="497.50" y2="77.80" stroke="#222" stroke-width="0.7" />
<line x1="495.70" y1="80.00" x2="497.50" y2="80.00" stroke="#222" stroke-width="0.7" />
<line x1="495.70" y1="82.20" x2="497.50" y2="82.20" stroke="#222" stroke-width="0.7" />
<line x1="495.70" y1="84.40" x2="497.50" y2="84.40" stroke="#222" stroke-width="0.7" />
<path d="M496.1,135.6 C496.5,134 499.1,134 499.70000000000005,133.4" fill="none" stroke="#141414" stroke-width="1.3" stroke-linejoin="round" stroke-linecap="round" />
<ellipse cx="494.10" cy="152.90" rx="5.20" ry="3.30" fill="#111" stroke="#141414" stroke-width="0.5" />
<line x1="499.70" y1="152.90" x2="525.20" y2="152.90" stroke="#333" stroke-width="1.1" />
<text x="527.20" y="159.40" font-size="19.5" text-anchor="start" fill="#111" >4</text>
<path d="M487.90000000000003,165.6 L487.90000000000003,176 C490.1,179.4 498.1,179.4 500.3,176 L500.3,165.6 Z" fill="url(#mesh2)" stroke="#141414" stroke-width="1.2" stroke-linejoin="round" stroke-linecap="round" />
<ellipse cx="494.10" cy="165.60" rx="6.20" ry="2.70" fill="#222" stroke="#141414" stroke-width="1.0" />
<path d="M490.5,165.2 L497.70000000000005,165.2 M491.70000000000005,166.6 L496.5,166.6" fill="none" stroke="#999" stroke-width="0.6" stroke-linejoin="round" stroke-linecap="round" stroke-dasharray="1 1"/>
<line x1="500.60" y1="172.30" x2="525.20" y2="172.30" stroke="#333" stroke-width="1.1" />
<text x="527.20" y="179.20" font-size="19.5" text-anchor="start" fill="#111" >5</text>
<path d="M484.0,191.4 L484.0,204.2 L487.70000000000005,208.2 L487.70000000000005,209 C490.1,211.4 498.1,211.4 500.5,209 L500.5,208.2 L504.20000000000005,204.2 L504.20000000000005,191.4 Z" fill="#fff" stroke="#141414" stroke-width="1.4" stroke-linejoin="round" stroke-linecap="round" />
<path d="M487.5,207.8 C490.1,209.8 498.1,209.8 500.70000000000005,207.8 L500.3,209.4 C498.1,211.6 490.1,211.6 487.90000000000003,209.4 Z" fill="#111" stroke="#141414" stroke-width="0.8" stroke-linejoin="round" stroke-linecap="round" />
<path d="M484.0,204.2 C488.1,208.4 500.1,208.4 504.20000000000005,204.2" fill="none" stroke="#141414" stroke-width="1.0" stroke-linejoin="round" stroke-linecap="round" />
<ellipse cx="494.10" cy="191.40" rx="10.10" ry="5.20" fill="#fff" stroke="#141414" stroke-width="1.4" />
<ellipse cx="494.10" cy="191.20" rx="6.20" ry="3.20" fill="#fff" stroke="#141414" stroke-width="1.9" />
<path d="M489.1,192.8 C492.1,190.8 496.1,190.8 499.1,192.8" fill="none" stroke="#444" stroke-width="0.8" stroke-linejoin="round" stroke-linecap="round" />
<path d="M478.40000000000003,230.4 L478.40000000000003,234 A15.7,8.6 0 0 0 509.8,234 L509.8,230.4 Z" fill="#fff" stroke="#141414" stroke-width="1.2" stroke-linejoin="round" stroke-linecap="round" />
<ellipse cx="494.10" cy="230.40" rx="15.70" ry="8.30" fill="#fff" stroke="#141414" stroke-width="1.2" />
<ellipse cx="494.10" cy="229.80" rx="12.60" ry="6.20" fill="none" stroke="#444" stroke-width="0.9" />
<ellipse cx="494.10" cy="231.40" rx="9.60" ry="4.70" fill="#fff" stroke="#141414" stroke-width="1.2" />
<line x1="494.10" y1="227.00" x2="494.10" y2="236.00" stroke="#333" stroke-width="0.9" />
<rect x="417.9" y="172.1" width="43.3" height="64.9" fill="none" stroke="#141414" stroke-width="1.25" stroke-dasharray="43.6 3.5 3.5 3.5" stroke-dashoffset="29.4"/>
<path d="M440.1,230.3 L440.1,249.9 L494.3,249.9" fill="none" stroke="#141414" stroke-width="1.2" stroke-dasharray="6.2 3 24.2 2 2.3 3.5 8 2.3 2.3 2.3 18 0"/>
<line x1="406.20" y1="205.30" x2="418.60" y2="205.30" stroke="#333" stroke-width="1.1" />
<text x="381.20" y="212.20" font-size="19.5" text-anchor="start" fill="#111" >15</text>
<text transform="translate(429.7,232.2) rotate(-90)" font-size="10.4" fill="#222">32mm</text>
<path d="M430.6,185.9 L430.6,221 L431.8,223 L431.8,227 C436,230.4 445,230.4 449.3,227 L449.3,223 L450.2,221 L450.2,185.9 Z" fill="#fff" stroke="#1c1c1c" stroke-width="1.3" stroke-linejoin="round" stroke-linecap="round" />
<ellipse cx="440.40" cy="185.90" rx="9.80" ry="5.20" fill="#fff" stroke="#1c1c1c" stroke-width="1.4" />
<ellipse cx="440.40" cy="186.20" rx="7.80" ry="3.70" fill="none" stroke="#1c1c1c" stroke-width="1.1" />
<path d="M430.6,191.6 C435,196.6 446,196.6 450.2,191.6 M432.4,184.6 L432.4,192.6 M436,189 L436,194.8 M444.8,189 L444.8,194.8 M448.4,184.6 L448.4,192.6" fill="none" stroke="#1c1c1c" stroke-width="1.0" stroke-linejoin="round" stroke-linecap="round" />
<path d="M430.6,221 C435,225 446,225 450.2,221 M431.8,223.4 C436,227 445,227 449.3,223.4 M436.4,225.6 L436.4,229.2 M444.6,225.6 L444.6,229.2" fill="none" stroke="#1c1c1c" stroke-width="1.1" stroke-linejoin="round" stroke-linecap="round" />
<ellipse cx="434.80" cy="209.60" rx="1.40" ry="2.10" fill="none" stroke="#1c1c1c" stroke-width="1.0" transform="rotate(-20 434.8 209.6)"/>
<path d="M443.6,206.2 L447.4,204.6" fill="none" stroke="#111" stroke-width="1.8" stroke-linejoin="round" stroke-linecap="round" />
<ellipse cx="446.20" cy="197.40" rx="0.80" ry="0.80" fill="#111" stroke="#141414" stroke-width="0.3" />
<ellipse cx="446.00" cy="219.20" rx="0.80" ry="0.80" fill="#111" stroke="#141414" stroke-width="0.3" />
<path d="M487.30,268.00 L487.30,283.40 Q494.10,285.40 500.90,283.40 L500.90,268.00 Z" fill="#ccc" stroke="#141414" stroke-width="1.0" stroke-linejoin="round" stroke-linecap="round" />
<path d="M487.30,269.28 A6.80,1.25 0 0 0 500.90,269.28" fill="none" stroke="#222" stroke-width="1.4" stroke-linejoin="round" stroke-linecap="round" />
<path d="M487.30,271.85 A6.80,1.25 0 0 0 500.90,271.85" fill="none" stroke="#222" stroke-width="1.4" stroke-linejoin="round" stroke-linecap="round" />
<path d="M487.30,274.42 A6.80,1.25 0 0 0 500.90,274.42" fill="none" stroke="#222" stroke-width="1.4" stroke-linejoin="round" stroke-linecap="round" />
<path d="M487.30,276.98 A6.80,1.25 0 0 0 500.90,276.98" fill="none" stroke="#222" stroke-width="1.4" stroke-linejoin="round" stroke-linecap="round" />
<path d="M487.30,279.55 A6.80,1.25 0 0 0 500.90,279.55" fill="none" stroke="#222" stroke-width="1.4" stroke-linejoin="round" stroke-linecap="round" />
<path d="M487.30,282.12 A6.80,1.25 0 0 0 500.90,282.12" fill="none" stroke="#222" stroke-width="1.4" stroke-linejoin="round" stroke-linecap="round" />
<path d="M479.8,261.4 L479.8,264.4 A14.3,7.8 0 0 0 508.40000000000003,264.4 L508.40000000000003,261.4 Z" fill="#fff" stroke="#141414" stroke-width="1.2" stroke-linejoin="round" stroke-linecap="round" />
<ellipse cx="494.10" cy="261.40" rx="14.30" ry="7.50" fill="#fff" stroke="#141414" stroke-width="1.2" />
<ellipse cx="494.10" cy="260.20" rx="8.30" ry="4.80" fill="#1a1a1a" stroke="#141414" stroke-width="1.2" />
<ellipse cx="494.10" cy="261.40" rx="5.60" ry="2.80" fill="#777" stroke="#141414" stroke-width="0.5" />
<line x1="494.10" y1="257.00" x2="494.10" y2="262.00" stroke="#222" stroke-width="0.9" />
<ellipse cx="494.10" cy="297.40" rx="11.20" ry="5.90" fill="none" stroke="#0c0c0c" stroke-width="2.2" />
<g transform="translate(494.10,321.30)">
<path d="M17.9,-15.3 L0,-14.6 C-6,-14.3 -12.5,-11.5 -16.6,-7 C-18.8,-4 -19.6,1 -19.1,6.8 L-7,0.6 C-9.6,-2.4 -9.2,-5.2 -6.3,-7 C-3.5,-8.4 2.5,-8.8 6.2,-7.7 Z" fill="#fff" stroke="#141414" stroke-width="1.3" stroke-linejoin="round" stroke-linecap="round" />
<path d="M-19.1,6.8 L-7,0.6 L-6.3,9.6 L-18.7,17.2 Z" fill="#fff" stroke="#141414" stroke-width="1.3" stroke-linejoin="round" stroke-linecap="round" />
<path d="M-18.6,16.6 L-8.4,1.8 M-15.2,14.6 L-6.6,6.2 M-18.9,9.6 L-17,8.2" fill="none" stroke="#141414" stroke-width="1.25" stroke-linejoin="round" stroke-linecap="round" />
<path d="M6.2,-7.7 L17.9,-15.3 C19.6,-14.8 20.7,-13.4 20.7,-11.9 L20.7,-5.6 L6.2,2.6 Z" fill="#fff" stroke="#141414" stroke-width="1.3" stroke-linejoin="round" stroke-linecap="round" />
<path d="M6.9,1.6 L17.9,-14.6 M11.4,-0.6 L20.6,-11.4 M6.5,-4.4 L8.4,-6.2 M17,-3.8 L20.5,-7" fill="none" stroke="#141414" stroke-width="1.25" stroke-linejoin="round" stroke-linecap="round" />
<path d="M-6.6,2.4 C-3,0.6 3,0.6 6.2,2.6" fill="none" stroke="#141414" stroke-width="1.2" stroke-linejoin="round" stroke-linecap="round" />
</g>
<line x1="494.10" y1="313.00" x2="494.10" y2="322.00" stroke="#333" stroke-width="0.9" />
<ellipse cx="494.10" cy="342.40" rx="8.10" ry="4.00" fill="none" stroke="#0c0c0c" stroke-width="2.2" />
<ellipse cx="494.10" cy="358.90" rx="11.70" ry="7.00" fill="#fff" stroke="#141414" stroke-width="1.5" />
<ellipse cx="494.10" cy="358.90" rx="6.20" ry="3.30" fill="#fff" stroke="#141414" stroke-width="1.6" />
<line x1="494.10" y1="355.40" x2="494.10" y2="362.40" stroke="#333" stroke-width="0.9" />
<path d="M483.6,376.3 C483.6,379.4 487.1,382.4 488.3,383 L489.1,384.4 L499.1,384.4 L499.90000000000003,383 C501.1,382.4 504.6,379.4 504.6,376.3 Z" fill="#fff" stroke="#141414" stroke-width="1.1" stroke-linejoin="round" stroke-linecap="round" />
<ellipse cx="494.10" cy="376.30" rx="10.00" ry="5.70" fill="#fff" stroke="#141414" stroke-width="1.4" />
<ellipse cx="494.10" cy="376.70" rx="5.80" ry="3.10" fill="#222" stroke="#141414" stroke-width="1.0" />
<ellipse cx="494.10" cy="377.40" rx="3.80" ry="1.60" fill="#ccc" stroke="#141414" stroke-width="0.4" />
<rect x="489.60" y="390.40" width="9.00" height="19.00" fill="url(#spr)" stroke="#141414" stroke-width="1.0" rx="1.8"/>
<line x1="492.90" y1="391.40" x2="492.90" y2="408.40" stroke="#bbb" stroke-width="0.7" />
<line x1="495.50" y1="391.40" x2="495.50" y2="408.40" stroke="#bbb" stroke-width="0.7" />
<rect x="489.60" y="413.40" width="9.00" height="19.00" fill="url(#spr)" stroke="#141414" stroke-width="1.0" rx="1.8"/>
<line x1="492.90" y1="414.40" x2="492.90" y2="431.40" stroke="#bbb" stroke-width="0.7" />
<line x1="495.50" y1="414.40" x2="495.50" y2="431.40" stroke="#bbb" stroke-width="0.7" />
<polyline points="502.60,400.50 517.70,400.50 517.70,424.10 502.60,424.10" fill="none" stroke="#333" stroke-width="1.1" stroke-linejoin="miter" />
<line x1="517.70" y1="411.80" x2="525.50" y2="411.80" stroke="#333" stroke-width="1.1" />
<text x="529.80" y="418.60" font-size="19.5" text-anchor="start" fill="#111" >6</text>
<ellipse cx="494.10" cy="439.80" rx="3.30" ry="1.70" fill="#555" stroke="#141414" stroke-width="1.9" />
<rect x="490.30" y="444.40" width="7.60" height="17.20" fill="#fff" stroke="#141414" stroke-width="1.1" rx="1.8"/>
<rect x="490.30" y="444.40" width="7.60" height="5.00" fill="#222" stroke="#141414" stroke-width="0.5" rx="1.8"/>
<path d="M490.3,452.4 L493.1,452.4 L493.1,455.4 L497.90000000000003,455.4 M491.5,456.6 L492.70000000000005,456.6" fill="none" stroke="#141414" stroke-width="0.9" stroke-linejoin="round" stroke-linecap="round" />
<rect x="490.70" y="461.60" width="6.80" height="16.00" fill="url(#spr)" stroke="#141414" stroke-width="0.7" rx="1.6"/>
<rect x="490.70" y="495.60" width="6.80" height="17.60" fill="url(#spr)" stroke="#141414" stroke-width="0.7" rx="1.6"/>
<rect x="490.30" y="513.20" width="7.60" height="13.80" fill="#fff" stroke="#141414" stroke-width="1.1" rx="1.8"/>
<rect x="490.30" y="522.60" width="7.60" height="4.60" fill="#222" stroke="#141414" stroke-width="0.5" rx="1.8"/>
<path d="M490.3,517.6 L493.1,517.6 L493.1,520.4 L497.90000000000003,520.4" fill="none" stroke="#141414" stroke-width="0.9" stroke-linejoin="round" stroke-linecap="round" />
<ellipse cx="494.10" cy="531.80" rx="3.30" ry="1.70" fill="#555" stroke="#141414" stroke-width="1.9" />
<polyline points="500.50,440.20 518.20,440.20 518.20,531.30 500.50,531.30" fill="none" stroke="#333" stroke-width="1.1" stroke-linejoin="miter" />
<line x1="500.50" y1="461.30" x2="518.20" y2="461.30" stroke="#333" stroke-width="1.1" />
<line x1="518.20" y1="485.30" x2="525.50" y2="485.30" stroke="#333" stroke-width="1.1" />
<text x="527.60" y="491.00" font-size="19.5" text-anchor="start" fill="#111" >14</text>
<line x1="652.80" y1="112.00" x2="652.80" y2="122.00" stroke="#333" stroke-width="0.9" />
<line x1="652.80" y1="152.00" x2="652.80" y2="252.00" stroke="#333" stroke-width="0.9" stroke-dasharray="12 2.5 2 2.5"/>
<line x1="652.80" y1="278.00" x2="652.80" y2="290.00" stroke="#333" stroke-width="0.9" stroke-dasharray="5 2"/>
<line x1="650.00" y1="330.00" x2="650.00" y2="478.00" stroke="#444" stroke-width="0.9" />
<line x1="652.80" y1="330.00" x2="652.80" y2="478.00" stroke="#333" stroke-width="0.9" stroke-dasharray="12 2.5 2 2.5"/>
<line x1="649.80" y1="488.00" x2="649.80" y2="520.00" stroke="#333" stroke-width="0.9" stroke-dasharray="3 1.5"/>
<polyline points="668.00,99.40 703.30,99.40 703.30,244.50 664.00,244.50" fill="none" stroke="#333" stroke-width="1.1" stroke-linejoin="miter" />
<line x1="680.00" y1="122.50" x2="703.30" y2="122.50" stroke="#333" stroke-width="1.1" />
<line x1="685.10" y1="129.50" x2="703.30" y2="129.50" stroke="#333" stroke-width="1.1" />
<line x1="667.20" y1="232.20" x2="703.30" y2="232.20" stroke="#333" stroke-width="1.1" />
<line x1="703.30" y1="171.80" x2="715.50" y2="171.80" stroke="#333" stroke-width="1.1" />
<text x="716.40" y="178.90" font-size="19.5" text-anchor="start" fill="#111" >1</text>
<polyline points="640.80,166.20 611.30,166.20 611.30,269.80 641.60,269.80" fill="none" stroke="#333" stroke-width="1.1" stroke-linejoin="miter" />
<line x1="611.30" y1="216.60" x2="640.80" y2="216.60" stroke="#333" stroke-width="1.1" />
<line x1="611.30" y1="232.20" x2="654.70" y2="232.20" stroke="#333" stroke-width="1.1" />
<line x1="611.30" y1="244.50" x2="652.00" y2="244.50" stroke="#333" stroke-width="1.1" />
<line x1="599.40" y1="220.20" x2="611.30" y2="220.20" stroke="#333" stroke-width="1.1" />
<text x="587.20" y="227.00" font-size="19.5" text-anchor="start" fill="#111" >2</text>
<path d="M641.5,96 L641.5,106.4 A11.3,6.2 0 0 0 664.0999999999999,106.4 L664.0999999999999,96 Z" fill="#fff" stroke="#141414" stroke-width="1.2" stroke-linejoin="round" stroke-linecap="round" />
<ellipse cx="652.80" cy="96.00" rx="11.30" ry="6.70" fill="#fff" stroke="#141414" stroke-width="1.2" />
<path d="M641.8,97.6 C644.8,104.2 656.8,105 661.4,100.6" fill="none" stroke="#141414" stroke-width="0.9" stroke-linejoin="round" stroke-linecap="round" />
<g transform="translate(660.8,103.3) rotate(27.7)">
<rect x="-0.50" y="-2.00" width="27.60" height="4.00" fill="#fff" stroke="#141414" stroke-width="1.45" rx="2"/>
<path d="M16,-0.2 L20,-0.2 M22,-0.2 L25,-0.2" fill="none" stroke="#141414" stroke-width="0.8" stroke-linejoin="round" stroke-linecap="round" />
</g>
<ellipse cx="661.40" cy="103.60" rx="1.60" ry="2.20" fill="#fff" stroke="#141414" stroke-width="1.0" transform="rotate(27 661.4 103.6)"/>
<ellipse cx="661.20" cy="106.60" rx="1.00" ry="1.40" fill="#fff" stroke="#141414" stroke-width="0.8" />
<ellipse cx="661.60" cy="98.00" rx="0.60" ry="0.60" fill="#333" stroke="#141414" stroke-width="0.3" />
<line x1="661.60" y1="107.60" x2="682.00" y2="129.80" stroke="#222" stroke-width="1.0" stroke-dasharray="5 1.5 1.2 1.5"/>
<ellipse cx="676.80" cy="124.10" rx="2.10" ry="2.10" fill="#111" stroke="#141414" stroke-width="0.4" />
<ellipse cx="682.90" cy="130.50" rx="1.50" ry="1.50" fill="#999" stroke="#141414" stroke-width="1.3" />
<path d="M642.0,125.6 L642.0,148 A10.8,5.7 0 0 0 663.5999999999999,148 L663.5999999999999,125.6 Z" fill="#fff" stroke="#141414" stroke-width="1.2" stroke-linejoin="round" stroke-linecap="round" />
<ellipse cx="652.80" cy="125.60" rx="10.80" ry="5.70" fill="#fff" stroke="#141414" stroke-width="1.3" />
<ellipse cx="652.80" cy="125.00" rx="7.60" ry="3.60" fill="#fff" stroke="#141414" stroke-width="1.3" />
<path d="M642.0,130.6 C646.8,136 658.8,136 663.5999999999999,130.6" fill="none" stroke="#141414" stroke-width="0.9" stroke-linejoin="round" stroke-linecap="round" />
<line x1="652.80" y1="122.00" x2="652.80" y2="128.60" stroke="#333" stroke-width="0.9" />
<ellipse cx="652.80" cy="166.80" rx="9.70" ry="5.20" fill="none" stroke="#0c0c0c" stroke-width="2.0" />
<path d="M642.8,184.5 L642.8,198.6 A10.0,6.2 0 0 0 662.8,198.6 L662.8,184.5 Z" fill="#fff" stroke="#141414" stroke-width="1.4" stroke-linejoin="round" stroke-linecap="round" />
<path d="M642.8,185.5 L642.8,189.6 A10.0,6.2 0 0 0 662.8,189.6 L662.8,185.5 Z" fill="#2a2a2a" stroke="#141414" stroke-width="1.0" stroke-linejoin="round" stroke-linecap="round" />
<path d="M642.8,187.6 A10.0,6.2 0 0 0 662.8,187.6" fill="none" stroke="#999" stroke-width="0.6" stroke-linejoin="round" stroke-linecap="round" />
<path d="M642.8,196.2 A10.0,6.2 0 0 0 662.8,196.2 M642.8,198.4 A10.0,6.2 0 0 0 662.8,198.4" fill="none" stroke="#141414" stroke-width="1.5" stroke-linejoin="round" stroke-linecap="round" />
<path d="M643.1999999999999,201 A10,5.8 0 0 0 662.4,201" fill="none" stroke="#141414" stroke-width="1.1" stroke-linejoin="round" stroke-linecap="round" />
<ellipse cx="652.80" cy="184.30" rx="9.50" ry="5.50" fill="#fff" stroke="#0e0e0e" stroke-width="2.2" />
<ellipse cx="652.80" cy="184.60" rx="7.00" ry="3.80" fill="#fff" stroke="#141414" stroke-width="1.3" />
<path d="M646.1999999999999,186.2 C649.8,183.6 655.8,183.6 659.4,186.2" fill="none" stroke="#555" stroke-width="0.8" stroke-linejoin="round" stroke-linecap="round" />
<line x1="652.80" y1="181.00" x2="652.80" y2="188.40" stroke="#333" stroke-width="0.9" />
<ellipse cx="652.80" cy="216.90" rx="9.50" ry="5.40" fill="none" stroke="#0c0c0c" stroke-width="2.0" />
<g transform="translate(662,230.6) rotate(18)">
<path d="M-2,-3.6 L2,-3.6 L2.2,-0.6 L1,0.4 L0.8,4.4 L-0.8,4.4 L-1,0.4 L-2.2,-0.6 Z" fill="#111" stroke="#141414" stroke-width="0.5" stroke-linejoin="round" stroke-linecap="round" />
</g>
<line x1="660.60" y1="235.60" x2="659.60" y2="238.60" stroke="#333" stroke-width="0.8" />
<g transform="translate(658.4,244.0) rotate(22)">
<rect x="-3.20" y="-4.60" width="6.40" height="9.20" fill="#161616" stroke="#141414" stroke-width="0.5" rx="1.6"/>
<ellipse cx="0.00" cy="-0.40" rx="1.30" ry="2.20" fill="#ddd" stroke="#141414" stroke-width="0.3" />
</g>
<line x1="656.40" y1="249.40" x2="655.00" y2="252.40" stroke="#333" stroke-width="0.8" />
<path d="M644.6999999999999,263 L644.6999999999999,275.2 A8.1,3.6 0 0 0 660.9,275.2 L660.9,263 Z" fill="#fff" stroke="#141414" stroke-width="1.4" stroke-linejoin="round" stroke-linecap="round" />
<ellipse cx="652.80" cy="263.00" rx="8.10" ry="3.40" fill="#fff" stroke="#141414" stroke-width="1.3" />
<path d="M645.4,262.6 L646.1999999999999,256.4 L648.4,252.8 L651.8,252.4 L654.1999999999999,250.6 L657.0,251.2 L658.1999999999999,254.6 L659.8,258.6 L660.1999999999999,262.4 C656.8,259.8 648.8,260 645.4,262.6 Z" fill="#141414" stroke="#141414" stroke-width="0.8" stroke-linejoin="round" stroke-linecap="round" />
<path d="M645.4,262.6 C648.8,265.4 656.8,265.4 660.1999999999999,262.4" fill="none" stroke="#141414" stroke-width="1.2" stroke-linejoin="round" stroke-linecap="round" />
<ellipse cx="655.20" cy="255.60" rx="1.00" ry="1.70" fill="#ddd" stroke="#141414" stroke-width="0.3" transform="rotate(20 655.1999999999999 255.6)"/>
<ellipse cx="650.60" cy="256.60" rx="0.80" ry="1.20" fill="#999" stroke="#141414" stroke-width="0.3" />
<path d="M646.9,322 L640.6,366.4 L636,381 L644.6,383.4 L648.4,362 L656,324 Z" fill="#fff" stroke="#141414" stroke-width="1.3" stroke-linejoin="round" stroke-linecap="round" />
<path d="M650.2,324 L643.6,364 M652.8,324 L646.2,360" fill="none" stroke="#141414" stroke-width="1.0" stroke-linejoin="round" stroke-linecap="round" />
<g transform="translate(645.6,358.8) rotate(11)">
<rect x="2.60" y="-9.40" width="4.60" height="13.60" fill="#fff" stroke="#141414" stroke-width="1.1" rx="1.6"/>
<rect x="-3.80" y="-5.60" width="7.60" height="11.20" fill="#fff" stroke="#141414" stroke-width="1.3" />
<line x1="-1.20" y1="-3.40" x2="-1.20" y2="3.40" stroke="#222" stroke-width="1.3" />
<line x1="1.20" y1="-3.40" x2="1.20" y2="3.40" stroke="#444" stroke-width="0.8" />
</g>
<g transform="translate(641.2,374.6) rotate(14)">
<rect x="-3.60" y="-7.60" width="7.20" height="10.00" fill="#fff" stroke="#141414" stroke-width="1.2" />
<line x1="-3.60" y1="-3.40" x2="3.60" y2="-3.40" stroke="#222" stroke-width="0.9" />
<rect x="-4.60" y="2.20" width="9.20" height="6.60" fill="#1a1a1a" stroke="#141414" stroke-width="0.8" rx="1.4"/>
<path d="M-3,3.6 L-3,6 M-1,3.6 L-1,6 M1,3.6 L1,6 M3,3.6 L3,6" fill="none" stroke="#bbb" stroke-width="0.7" stroke-linejoin="round" stroke-linecap="round" />
</g>
<g transform="translate(657.4,324.4) rotate(-42)">
<rect x="-3.00" y="0.00" width="6.00" height="10.00" fill="#fff" stroke="#141414" stroke-width="1.2" />
<rect x="-3.40" y="8.00" width="6.80" height="9.00" fill="#1a1a1a" stroke="#141414" stroke-width="0.8" />
<path d="M-3.4,10.6 L3.4,10.6 M-3.4,13.4 L3.4,13.4" fill="none" stroke="#ddd" stroke-width="0.9" stroke-linejoin="round" stroke-linecap="round" />
<rect x="-4.60" y="16.40" width="9.20" height="8.60" fill="#1a1a1a" stroke="#141414" stroke-width="0.8" rx="2"/>
<path d="M-4.6,19.4 C-2,21 2,21 4.6,19.4" fill="none" stroke="#eee" stroke-width="1.3" stroke-linejoin="round" stroke-linecap="round" />
<path d="M-3,22.6 L-3,24.4 M-1,22.8 L-1,24.8 M1,22.8 L1,24.8 M3,22.6 L3,24.4" fill="none" stroke="#ccc" stroke-width="0.7" stroke-linejoin="round" stroke-linecap="round" />
</g>
<path d="M663.2,324 C666.4,326 667.6,330 666.4,334" fill="none" stroke="#141414" stroke-width="1.2" stroke-linejoin="round" stroke-linecap="round" />
<line x1="673.80" y1="349.80" x2="686.00" y2="366.20" stroke="#222" stroke-width="1.0" stroke-dasharray="5.5 2.5 1.5 2.5"/>
<ellipse cx="652.60" cy="327.40" rx="13.60" ry="6.40" fill="none" stroke="#141414" stroke-width="1.9" />
<path d="M636.3,311.5 L636.3,314 A16.5,8.6 0 0 0 669.3,314 L669.3,311.5 Z" fill="#fff" stroke="#141414" stroke-width="1.2" stroke-linejoin="round" stroke-linecap="round" />
<ellipse cx="652.80" cy="311.50" rx="16.50" ry="8.40" fill="#fff" stroke="#141414" stroke-width="1.3" />
<ellipse cx="652.80" cy="311.50" rx="12.20" ry="5.70" fill="#fff" stroke="#141414" stroke-width="1.1" />
<ellipse cx="652.80" cy="312.60" rx="10.40" ry="4.60" fill="none" stroke="#555" stroke-width="0.8" />
<rect x="645.20" y="299.00" width="15.20" height="12.00" fill="#fff" stroke="#141414" stroke-width="1.0" />
<path d="M649.4,303 L649.4,316 M653.4,303 L653.4,317 M656.5999999999999,303 L656.5999999999999,316" fill="none" stroke="#141414" stroke-width="0.9" stroke-linejoin="round" stroke-linecap="round" />
<path d="M640.5999999999999,311.5 A12.2,5.7 0 0 0 665.0,311.5" fill="none" stroke="#141414" stroke-width="1.1" stroke-linejoin="round" stroke-linecap="round" />
<path d="M643.3,295 L643.3,300 A9.5,4.6 0 0 0 662.3,300 L662.3,295 Z" fill="#161616" stroke="#141414" stroke-width="1.0" stroke-linejoin="round" stroke-linecap="round" />
<ellipse cx="652.80" cy="295.00" rx="9.50" ry="5.20" fill="#fff" stroke="#141414" stroke-width="1.4" />
<ellipse cx="652.80" cy="295.00" rx="7.40" ry="3.90" fill="#fff" stroke="#141414" stroke-width="1.0" />
<path d="M647.8,293.6 C650.8,291.6 653.8,292.4 653.1999999999999,294.4 C651.8,296.4 648.8,296.6 647.8,293.6 M654.4,295.4 L658.8,293.4 M650.8,297.6 L655.8,297.6 M654.8,291.8 L656.8,291.4" fill="none" stroke="#141414" stroke-width="0.9" stroke-linejoin="round" stroke-linecap="round" />
<g transform="translate(652.60,413.60)">
<path d="M17.9,-15.3 L0,-14.6 C-6,-14.3 -12.5,-11.5 -16.6,-7 C-18.8,-4 -19.6,1 -19.1,6.8 L-7,0.6 C-9.6,-2.4 -9.2,-5.2 -6.3,-7 C-3.5,-8.4 2.5,-8.8 6.2,-7.7 Z" fill="#fff" stroke="#141414" stroke-width="1.3" stroke-linejoin="round" stroke-linecap="round" />
<path d="M-19.1,6.8 L-7,0.6 L-6.3,9.6 L-18.7,17.2 Z" fill="#fff" stroke="#141414" stroke-width="1.3" stroke-linejoin="round" stroke-linecap="round" />
<path d="M-18.6,16.6 L-8.4,1.8 M-15.2,14.6 L-6.6,6.2 M-18.9,9.6 L-17,8.2" fill="none" stroke="#141414" stroke-width="1.25" stroke-linejoin="round" stroke-linecap="round" />
<path d="M6.2,-7.7 L17.9,-15.3 C19.6,-14.8 20.7,-13.4 20.7,-11.9 L20.7,-5.6 L6.2,2.6 Z" fill="#fff" stroke="#141414" stroke-width="1.3" stroke-linejoin="round" stroke-linecap="round" />
<path d="M6.9,1.6 L17.9,-14.6 M11.4,-0.6 L20.6,-11.4 M6.5,-4.4 L8.4,-6.2 M17,-3.8 L20.5,-7" fill="none" stroke="#141414" stroke-width="1.25" stroke-linejoin="round" stroke-linecap="round" />
<path d="M-6.6,2.4 C-3,0.6 3,0.6 6.2,2.6" fill="none" stroke="#141414" stroke-width="1.2" stroke-linejoin="round" stroke-linecap="round" />
</g>
<line x1="650.00" y1="404.60" x2="650.00" y2="414.40" stroke="#333" stroke-width="0.9" />
<line x1="652.80" y1="404.60" x2="652.80" y2="414.40" stroke="#333" stroke-width="0.9" />
<path d="M641.30,435.00 L641.30,446.20 A11.50,6.30 0 0 0 664.30,446.20 L664.30,435.00 Z" fill="#fff" stroke="#141414" stroke-width="1.4" stroke-linejoin="round" stroke-linecap="round" />
<ellipse cx="652.80" cy="435.00" rx="11.50" ry="6.30" fill="#fff" stroke="#141414" stroke-width="1.4" />
<ellipse cx="652.80" cy="435.90" rx="9.80" ry="4.90" fill="none" stroke="#141414" stroke-width="1.26" />
<line x1="650.00" y1="431.00" x2="650.00" y2="439.80" stroke="#333" stroke-width="0.9" />
<line x1="652.80" y1="431.00" x2="652.80" y2="439.80" stroke="#333" stroke-width="0.9" stroke-dasharray="4 2"/>
<ellipse cx="652.80" cy="463.30" rx="11.30" ry="7.10" fill="#fff" stroke="#141414" stroke-width="1.7" />
<ellipse cx="652.80" cy="463.30" rx="7.70" ry="3.90" fill="#fff" stroke="#141414" stroke-width="1.6" />
<line x1="650.00" y1="459.60" x2="650.00" y2="467.00" stroke="#333" stroke-width="0.9" />
<line x1="652.80" y1="459.60" x2="652.80" y2="467.00" stroke="#333" stroke-width="0.9" />
<path d="M640.2,480.6 C640.2,475.6 646,472.8 652.4,472.8 C658,472.8 663,475 664.4,478.4 L664.4,482.4 C661,480.4 657,480 654.6,480.6 C652,479 648,479.6 647.2,481.8 C646.6,484 649,485.4 652,485.2 L652.2,490.2 C645,489.4 640.2,486 640.2,480.6 Z" fill="#fff" stroke="#141414" stroke-width="1.2" stroke-linejoin="round" stroke-linecap="round" />
<path d="M640.2,480.6 C641,484 646,487 652,487.2 M654.6,480.6 C657,481.6 657.4,484 655,485.4 L652,485.2" fill="none" stroke="#141414" stroke-width="0.9" stroke-linejoin="round" stroke-linecap="round" />
<ellipse cx="651.40" cy="479.60" rx="2.60" ry="1.50" fill="none" stroke="#141414" stroke-width="0.9" />
<path d="M645.6,500.4 L645.6,508 C647,510 652.4,510 653.9,508 L653.9,500.4 Z" fill="#fff" stroke="#141414" stroke-width="1.1" stroke-linejoin="round" stroke-linecap="round" />
<ellipse cx="649.75" cy="500.40" rx="4.15" ry="1.90" fill="#fff" stroke="#141414" stroke-width="1.1" />
<ellipse cx="649.75" cy="500.50" rx="2.40" ry="1.00" fill="#666" stroke="#141414" stroke-width="0.6" />
<path d="M648.2,502.4 L648.2,509.4 M651.6,502.4 L651.6,509.4" fill="none" stroke="#141414" stroke-width="0.8" stroke-linejoin="round" stroke-linecap="round" />
<path d="M645.4,529 C645.6,535 644,538.6 639.6,541.4 L643.4,547 C650.4,543 653.8,537 653.8,529 Z" fill="#fff" stroke="#141414" stroke-width="1.4" stroke-linejoin="round" stroke-linecap="round" />
<path d="M649.6,530 C649.6,537 646.6,541.4 641.6,544.4" fill="none" stroke="#141414" stroke-width="0.9" stroke-linejoin="round" stroke-linecap="round" />
<path d="M642.9,521.6 L642.9,526.8 L645.8,530.2 L653.4,530.4 L656.5,526.8 L656.5,521.6 Z" fill="#fff" stroke="#141414" stroke-width="1.4" stroke-linejoin="round" stroke-linecap="round" />
<path d="M645.8,525 L645.8,530.2 M653.4,525 L653.4,530.4 M642.9,522 L645.8,525 L653.4,525 L656.5,522" fill="none" stroke="#141414" stroke-width="1.0" stroke-linejoin="round" stroke-linecap="round" />
<ellipse cx="649.70" cy="521.60" rx="6.80" ry="3.40" fill="#fff" stroke="#141414" stroke-width="1.4" />
<ellipse cx="649.70" cy="521.90" rx="4.50" ry="2.00" fill="#2a2a2a" stroke="#141414" stroke-width="1.0" />
<ellipse cx="649.70" cy="522.20" rx="2.20" ry="0.90" fill="#aaa" stroke="#141414" stroke-width="0.3" />
<g transform="translate(642.60,543.80) rotate(64.50)">
<rect x="-5.20" y="0.00" width="10.40" height="13.90" fill="#fff" stroke="#141414" stroke-width="1.1" />
<line x1="-2.60" y1="0.30" x2="-2.60" y2="13.60" stroke="#222" stroke-width="0.9" />
<line x1="0.00" y1="0.30" x2="0.00" y2="13.60" stroke="#222" stroke-width="0.9" />
<line x1="2.60" y1="0.30" x2="2.60" y2="13.60" stroke="#222" stroke-width="0.9" />
<rect x="-3.70" y="13.90" width="7.40" height="17.00" fill="url(#mesh)" stroke="#0c0c0c" stroke-width="1.2" />
</g>
<line x1="639.80" y1="384.40" x2="625.60" y2="434.00" stroke="#222" stroke-width="0.9" />
<g transform="translate(624.90,434.40) rotate(14.10)">
<path d="M-6.9,2 L-6.9,8.4 L-3.1050000000000004,10 L3.7950000000000004,10 L6.9,8.4 L6.9,2 Z" fill="#fff" stroke="#141414" stroke-width="1.4" stroke-linejoin="round" stroke-linecap="round" />
<path d="M-3.1050000000000004,4 L-3.1050000000000004,10 M3.7950000000000004,4 L3.7950000000000004,10" fill="none" stroke="#141414" stroke-width="1.0" stroke-linejoin="round" stroke-linecap="round" />
<path d="M-6.9,2.2 L-3.1050000000000004,4.4 L3.7950000000000004,4.4 L6.9,2.2" fill="none" stroke="#141414" stroke-width="1.0" stroke-linejoin="round" stroke-linecap="round" />
<ellipse cx="0.00" cy="2.00" rx="6.90" ry="2.60" fill="#fff" stroke="#141414" stroke-width="1.4" />
<ellipse cx="0.00" cy="2.10" rx="4.55" ry="1.60" fill="#2a2a2a" stroke="#141414" stroke-width="1.0" />
<ellipse cx="0.00" cy="2.30" rx="2.07" ry="0.70" fill="#aaa" stroke="#141414" stroke-width="0.3" />
<rect x="-4.70" y="10.00" width="9.40" height="11.00" fill="#fff" stroke="#141414" stroke-width="1.2" />
<line x1="-3.03" y1="10.60" x2="-4.03" y2="20.40" stroke="#111" stroke-width="1.15" />
<line x1="-0.67" y1="10.60" x2="-1.67" y2="20.40" stroke="#111" stroke-width="1.15" />
<line x1="1.67" y1="10.60" x2="0.67" y2="20.40" stroke="#111" stroke-width="1.15" />
<line x1="4.02" y1="10.60" x2="3.02" y2="20.40" stroke="#111" stroke-width="1.15" />
<rect x="-3.80" y="21.00" width="7.60" height="26.00" fill="url(#mesh)" stroke="#0c0c0c" stroke-width="1.2" />
<rect x="-3.80" y="49.60" width="7.60" height="25.50" fill="url(#mesh)" stroke="#0c0c0c" stroke-width="1.2" />
<rect x="-4.80" y="75.10" width="9.60" height="11.80" fill="#fff" stroke="#141414" stroke-width="1.2" />
<line x1="-3.10" y1="75.70" x2="-4.10" y2="86.30" stroke="#111" stroke-width="1.15" />
<line x1="-0.70" y1="75.70" x2="-1.70" y2="86.30" stroke="#111" stroke-width="1.15" />
<line x1="1.70" y1="75.70" x2="0.70" y2="86.30" stroke="#111" stroke-width="1.15" />
<line x1="4.10" y1="75.70" x2="3.10" y2="86.30" stroke="#111" stroke-width="1.15" />
<path d="M-7.0,88.1 L-7.0,96.1 L-3.15,97.69999999999999 L3.8500000000000005,97.69999999999999 L7.0,96.1 L7.0,88.1 L3.8500000000000005,86.49999999999999 L-3.15,86.49999999999999 Z" fill="#fff" stroke="#141414" stroke-width="1.4" stroke-linejoin="round" stroke-linecap="round" />
<path d="M-3.15,89.3 L-3.15,97.69999999999999 M3.8500000000000005,89.3 L3.8500000000000005,97.69999999999999" fill="none" stroke="#141414" stroke-width="1.0" stroke-linejoin="round" stroke-linecap="round" />
<path d="M-7.0,88.1 L-3.15,89.49999999999999 L3.8500000000000005,89.49999999999999 L7.0,88.1" fill="none" stroke="#141414" stroke-width="1.0" stroke-linejoin="round" stroke-linecap="round" />
</g>
<line x1="597.60" y1="464.90" x2="611.00" y2="464.90" stroke="#333" stroke-width="1.1" />
<text x="584.80" y="470.60" font-size="19.5" text-anchor="start" fill="#111" >3</text>
<g transform="translate(685.90,366.20) rotate(-34.10)">
<path d="M-7.1,2 L-7.1,10.4 L-3.195,12 L3.9050000000000002,12 L7.1,10.4 L7.1,2 Z" fill="#fff" stroke="#141414" stroke-width="1.4" stroke-linejoin="round" stroke-linecap="round" />
<path d="M-3.195,4 L-3.195,12 M3.9050000000000002,4 L3.9050000000000002,12" fill="none" stroke="#141414" stroke-width="1.0" stroke-linejoin="round" stroke-linecap="round" />
<path d="M-7.1,2.2 L-3.195,4.4 L3.9050000000000002,4.4 L7.1,2.2" fill="none" stroke="#141414" stroke-width="1.0" stroke-linejoin="round" stroke-linecap="round" />
<ellipse cx="0.00" cy="2.00" rx="7.10" ry="2.60" fill="#fff" stroke="#141414" stroke-width="1.4" />
<ellipse cx="0.00" cy="2.10" rx="4.69" ry="1.60" fill="#2a2a2a" stroke="#141414" stroke-width="1.0" />
<ellipse cx="0.00" cy="2.30" rx="2.13" ry="0.70" fill="#aaa" stroke="#141414" stroke-width="0.3" />
<rect x="-4.80" y="12.00" width="9.60" height="5.00" fill="#fff" stroke="#141414" stroke-width="1.2" />
<line x1="-3.10" y1="12.60" x2="-4.10" y2="16.40" stroke="#111" stroke-width="1.15" />
<line x1="-0.70" y1="12.60" x2="-1.70" y2="16.40" stroke="#111" stroke-width="1.15" />
<line x1="1.70" y1="12.60" x2="0.70" y2="16.40" stroke="#111" stroke-width="1.15" />
<line x1="4.10" y1="12.60" x2="3.10" y2="16.40" stroke="#111" stroke-width="1.15" />
<rect x="-3.90" y="17.00" width="7.80" height="22.80" fill="url(#mesh)" stroke="#0c0c0c" stroke-width="1.2" />
<rect x="-3.90" y="41.60" width="7.80" height="22.10" fill="url(#mesh)" stroke="#0c0c0c" stroke-width="1.2" />
<rect x="-4.80" y="63.70" width="9.60" height="5.00" fill="#fff" stroke="#141414" stroke-width="1.2" />
<line x1="-3.10" y1="64.30" x2="-4.10" y2="68.10" stroke="#111" stroke-width="1.15" />
<line x1="-0.70" y1="64.30" x2="-1.70" y2="68.10" stroke="#111" stroke-width="1.15" />
<line x1="1.70" y1="64.30" x2="0.70" y2="68.10" stroke="#111" stroke-width="1.15" />
<line x1="4.10" y1="64.30" x2="3.10" y2="68.10" stroke="#111" stroke-width="1.15" />
<path d="M-7.2,69.89999999999999 L-7.2,78.6 L-3.24,80.19999999999999 L3.9600000000000004,80.19999999999999 L7.2,78.6 L7.2,69.89999999999999 L3.9600000000000004,68.29999999999998 L-3.24,68.29999999999998 Z" fill="#fff" stroke="#141414" stroke-width="1.4" stroke-linejoin="round" stroke-linecap="round" />
<path d="M-3.24,71.1 L-3.24,80.19999999999999 M3.9600000000000004,71.1 L3.9600000000000004,80.19999999999999" fill="none" stroke="#141414" stroke-width="1.0" stroke-linejoin="round" stroke-linecap="round" />
<path d="M-7.2,69.89999999999999 L-3.24,71.29999999999998 L3.9600000000000004,71.29999999999998 L7.2,69.89999999999999" fill="none" stroke="#141414" stroke-width="1.0" stroke-linejoin="round" stroke-linecap="round" />
</g>
<line x1="706.00" y1="384.70" x2="723.90" y2="384.70" stroke="#333" stroke-width="1.1" />
<text x="725.60" y="390.40" font-size="19.5" text-anchor="start" fill="#111" >3</text>
</svg>
</body></html>
